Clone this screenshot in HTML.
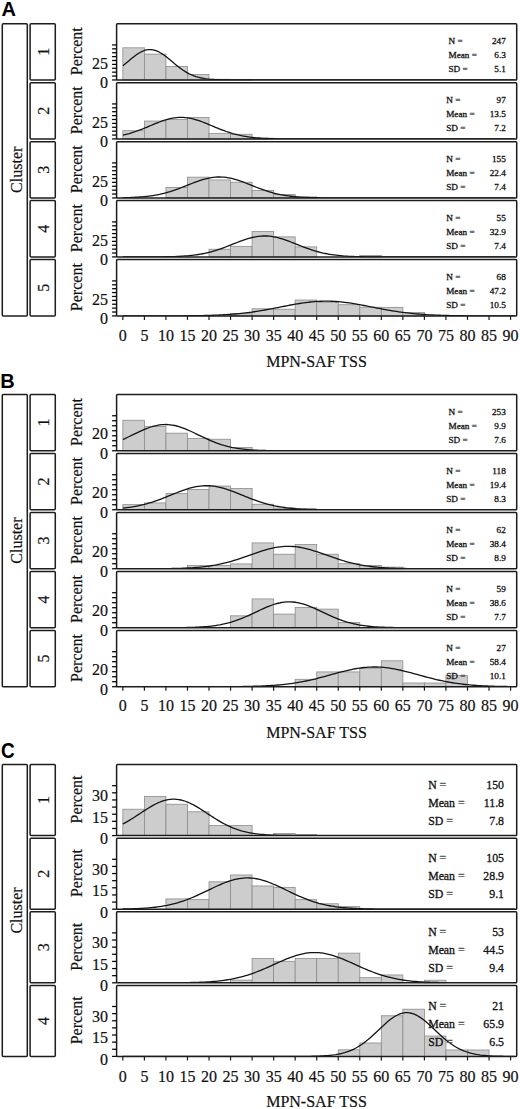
<!DOCTYPE html>
<html><head><meta charset="utf-8"><style>
html,body{margin:0;padding:0;background:#fff;}
svg{display:block;}
</style></head><body>
<svg width="520" height="1109" viewBox="0 0 520 1109">
<rect width="520" height="1109" fill="#fff"/>
<text transform="translate(1.5 15.6) scale(1.0 1.03)" font-family="'Liberation Sans', sans-serif" font-weight="bold" font-size="20" fill="#000">A</text>
<rect x="2.3" y="23.65" width="25.0" height="292.26" rx="1.0" fill="none" stroke="#1c1c1c" stroke-width="1.5"/>
<text transform="translate(21.7 169.78) rotate(-90)" text-anchor="middle" font-family="'Liberation Serif', serif" font-size="16" fill="#111" stroke="#111" stroke-width="0.2">Cluster</text>
<rect x="30.1" y="23.65" width="25.2" height="56.3" rx="1.0" fill="none" stroke="#1c1c1c" stroke-width="1.5"/>
<text transform="translate(48.9 51.8) rotate(-90)" text-anchor="middle" font-family="'Liberation Serif', serif" font-size="16" fill="#111" stroke="#111" stroke-width="0.2">1</text>
<text transform="translate(81.8 51.2) rotate(-90)" text-anchor="middle" font-family="'Liberation Serif', serif" font-size="16" fill="#111" stroke="#111" stroke-width="0.2">Percent</text>
<rect x="122.85" y="47.82" width="21.54" height="32.13" fill="#cdcdcd" stroke="#8c8c8c" stroke-width="0.8"/>
<rect x="144.39" y="54.12" width="21.54" height="25.83" fill="#cdcdcd" stroke="#8c8c8c" stroke-width="0.8"/>
<rect x="165.93" y="66.41" width="21.54" height="13.54" fill="#cdcdcd" stroke="#8c8c8c" stroke-width="0.8"/>
<rect x="187.47" y="74.58" width="21.54" height="5.37" fill="#cdcdcd" stroke="#8c8c8c" stroke-width="0.8"/>
<rect x="209.01" y="79.25" width="21.54" height="0.7" fill="#cdcdcd" stroke="#8c8c8c" stroke-width="0.8"/>
<rect x="230.55" y="79.64" width="21.54" height="0.31" fill="#cdcdcd" stroke="#8c8c8c" stroke-width="0.8"/>
<polyline points="122.85,65.76 125,64.01 127.16,62.22 129.31,60.41 131.47,58.62 133.62,56.9 135.77,55.27 137.93,53.78 140.08,52.46 142.24,51.36 144.39,50.49 146.54,49.89 148.7,49.57 150.85,49.54 153.01,49.81 155.16,50.35 157.31,51.17 159.47,52.22 161.62,53.5 163.78,54.96 165.93,56.56 168.08,58.27 170.24,60.05 172.39,61.86 174.55,63.66 176.7,65.42 178.85,67.11 181.01,68.72 183.16,70.22 185.32,71.6 187.47,72.85 189.62,73.97 191.78,74.96 193.93,75.83 196.09,76.58 198.24,77.22 200.39,77.76 202.55,78.21 204.7,78.58 206.86,78.88 209.01,79.13 211.16,79.32 213.32,79.47 215.47,79.59 217.63,79.68 219.78,79.75 221.93,79.81 224.09,79.85 226.24,79.88 228.4,79.9 230.55,79.91 232.7,79.92 234.86,79.93 237.01,79.94 239.17,79.94 241.32,79.94 243.47,79.95 245.63,79.95 247.78,79.95 249.94,79.95 252.09,79.95 254.24,79.95 256.4,79.95 258.55,79.95 260.71,79.95 262.86,79.95 265.01,79.95 267.17,79.95 269.32,79.95 271.48,79.95 273.63,79.95 275.78,79.95 277.94,79.95 280.09,79.95 282.25,79.95 284.4,79.95 286.55,79.95 288.71,79.95 290.86,79.95 293.02,79.95 295.17,79.95 297.32,79.95 299.48,79.95 301.63,79.95 303.79,79.95 305.94,79.95 308.09,79.95 310.25,79.95 312.4,79.95 314.56,79.95 316.71,79.95 318.86,79.95 321.02,79.95 323.17,79.95 325.33,79.95 327.48,79.95 329.63,79.95 331.79,79.95 333.94,79.95 336.1,79.95 338.25,79.95 340.4,79.95 342.56,79.95 344.71,79.95 346.87,79.95 349.02,79.95 351.17,79.95 353.33,79.95 355.48,79.95 357.64,79.95 359.79,79.95 361.94,79.95 364.1,79.95 366.25,79.95 368.41,79.95 370.56,79.95 372.71,79.95 374.87,79.95 377.02,79.95 379.18,79.95 381.33,79.95 383.48,79.95 385.64,79.95 387.79,79.95 389.95,79.95 392.1,79.95 394.25,79.95 396.41,79.95 398.56,79.95 400.72,79.95 402.87,79.95 405.02,79.95 407.18,79.95 409.33,79.95 411.49,79.95 413.64,79.95 415.79,79.95 417.95,79.95 420.1,79.95 422.26,79.95 424.41,79.95 426.56,79.95 428.72,79.95 430.87,79.95 433.03,79.95 435.18,79.95 437.33,79.95 439.49,79.95 441.64,79.95 443.8,79.95 445.95,79.95 448.1,79.95 450.26,79.95 452.41,79.95 454.57,79.95 456.72,79.95 458.87,79.95 461.03,79.95 463.18,79.95 465.34,79.95 467.49,79.95 469.64,79.95 471.8,79.95 473.95,79.95 476.11,79.95 478.26,79.95 480.41,79.95 482.57,79.95 484.72,79.95 486.88,79.95 489.03,79.95 491.18,79.95 493.34,79.95 495.49,79.95 497.65,79.95 499.8,79.95 501.95,79.95 504.11,79.95 506.26,79.95 508.42,79.95 510.57,79.95 512.72,79.95 514.88,79.95" fill="none" stroke="#141414" stroke-width="1.3" stroke-linejoin="round" clip-path="url(#clA0)"/>
<clipPath id="clA0"><rect x="116.6" y="23.65" width="400.1" height="56.3"/></clipPath>
<rect x="116.6" y="23.65" width="400.1" height="56.3" rx="0.8" fill="none" stroke="#1c1c1c" stroke-width="1.5"/>
<line x1="112.1" y1="79.95" x2="116.6" y2="79.95" stroke="#000" stroke-width="1.25"/>
<line x1="112.1" y1="76.06" x2="116.6" y2="76.06" stroke="#000" stroke-width="1.25"/>
<line x1="112.1" y1="72.17" x2="116.6" y2="72.17" stroke="#000" stroke-width="1.25"/>
<line x1="112.1" y1="68.28" x2="116.6" y2="68.28" stroke="#000" stroke-width="1.25"/>
<line x1="112.1" y1="64.39" x2="116.6" y2="64.39" stroke="#000" stroke-width="1.25"/>
<line x1="112.1" y1="60.5" x2="116.6" y2="60.5" stroke="#000" stroke-width="1.25"/>
<line x1="112.1" y1="56.61" x2="116.6" y2="56.61" stroke="#000" stroke-width="1.25"/>
<line x1="112.1" y1="52.72" x2="116.6" y2="52.72" stroke="#000" stroke-width="1.25"/>
<line x1="112.1" y1="48.83" x2="116.6" y2="48.83" stroke="#000" stroke-width="1.25"/>
<line x1="112.1" y1="44.94" x2="116.6" y2="44.94" stroke="#000" stroke-width="1.25"/>
<text x="108.0" y="88.25" text-anchor="end" font-family="'Liberation Serif', serif" font-size="16" fill="#111" stroke="#111" stroke-width="0.2">0</text>
<text x="108.0" y="68.8" text-anchor="end" font-family="'Liberation Serif', serif" font-size="16" fill="#111" stroke="#111" stroke-width="0.2">25</text>
<text x="448.5" y="44.1" font-family="'Liberation Serif', serif" font-size="9.2" fill="#111" stroke="#111" stroke-width="0.3">N <tspan fill="#555" stroke="#555">=</tspan></text>
<text x="505.8" y="44.1" text-anchor="end" font-family="'Liberation Serif', serif" font-size="9.2" fill="#111" stroke="#111" stroke-width="0.3">247</text>
<text x="448.5" y="58.2" font-family="'Liberation Serif', serif" font-size="9.2" fill="#111" stroke="#111" stroke-width="0.3">Mean <tspan fill="#555" stroke="#555">=</tspan></text>
<text x="505.8" y="58.2" text-anchor="end" font-family="'Liberation Serif', serif" font-size="9.2" fill="#111" stroke="#111" stroke-width="0.3">6.3</text>
<text x="448.5" y="72.3" font-family="'Liberation Serif', serif" font-size="9.2" fill="#111" stroke="#111" stroke-width="0.3">SD <tspan fill="#555" stroke="#555">=</tspan></text>
<text x="505.8" y="72.3" text-anchor="end" font-family="'Liberation Serif', serif" font-size="9.2" fill="#111" stroke="#111" stroke-width="0.3">5.1</text>
<rect x="30.1" y="82.64" width="25.2" height="56.3" rx="1.0" fill="none" stroke="#1c1c1c" stroke-width="1.5"/>
<text transform="translate(48.9 110.79) rotate(-90)" text-anchor="middle" font-family="'Liberation Serif', serif" font-size="16" fill="#111" stroke="#111" stroke-width="0.2">2</text>
<text transform="translate(81.8 110.19) rotate(-90)" text-anchor="middle" font-family="'Liberation Serif', serif" font-size="16" fill="#111" stroke="#111" stroke-width="0.2">Percent</text>
<rect x="122.85" y="130.69" width="21.54" height="8.25" fill="#cdcdcd" stroke="#8c8c8c" stroke-width="0.8"/>
<rect x="144.39" y="121.05" width="21.54" height="17.89" fill="#cdcdcd" stroke="#8c8c8c" stroke-width="0.8"/>
<rect x="165.93" y="119.57" width="21.54" height="19.37" fill="#cdcdcd" stroke="#8c8c8c" stroke-width="0.8"/>
<rect x="187.47" y="117.39" width="21.54" height="21.55" fill="#cdcdcd" stroke="#8c8c8c" stroke-width="0.8"/>
<rect x="209.01" y="133.34" width="21.54" height="5.6" fill="#cdcdcd" stroke="#8c8c8c" stroke-width="0.8"/>
<rect x="230.55" y="134.27" width="21.54" height="4.67" fill="#cdcdcd" stroke="#8c8c8c" stroke-width="0.8"/>
<rect x="252.09" y="138.16" width="21.54" height="0.78" fill="#cdcdcd" stroke="#8c8c8c" stroke-width="0.8"/>
<polyline points="122.85,135.22 125,134.72 127.16,134.16 129.31,133.57 131.47,132.92 133.62,132.23 135.77,131.5 137.93,130.72 140.08,129.91 142.24,129.07 144.39,128.2 146.54,127.31 148.7,126.41 150.85,125.5 153.01,124.6 155.16,123.71 157.31,122.84 159.47,122 161.62,121.21 163.78,120.47 165.93,119.79 168.08,119.18 170.24,118.65 172.39,118.2 174.55,117.85 176.7,117.59 178.85,117.44 181.01,117.39 183.16,117.44 185.32,117.59 187.47,117.85 189.62,118.2 191.78,118.65 193.93,119.18 196.09,119.79 198.24,120.47 200.39,121.21 202.55,122 204.7,122.84 206.86,123.71 209.01,124.6 211.16,125.5 213.32,126.41 215.47,127.31 217.63,128.2 219.78,129.07 221.93,129.91 224.09,130.72 226.24,131.5 228.4,132.23 230.55,132.92 232.7,133.57 234.86,134.16 237.01,134.72 239.17,135.22 241.32,135.69 243.47,136.1 245.63,136.48 247.78,136.82 249.94,137.12 252.09,137.38 254.24,137.61 256.4,137.82 258.55,137.99 260.71,138.15 262.86,138.28 265.01,138.39 267.17,138.49 269.32,138.57 271.48,138.63 273.63,138.69 275.78,138.74 277.94,138.78 280.09,138.81 282.25,138.84 284.4,138.86 286.55,138.87 288.71,138.89 290.86,138.9 293.02,138.91 295.17,138.92 297.32,138.92 299.48,138.93 301.63,138.93 303.79,138.93 305.94,138.93 308.09,138.94 310.25,138.94 312.4,138.94 314.56,138.94 316.71,138.94 318.86,138.94 321.02,138.94 323.17,138.94 325.33,138.94 327.48,138.94 329.63,138.94 331.79,138.94 333.94,138.94 336.1,138.94 338.25,138.94 340.4,138.94 342.56,138.94 344.71,138.94 346.87,138.94 349.02,138.94 351.17,138.94 353.33,138.94 355.48,138.94 357.64,138.94 359.79,138.94 361.94,138.94 364.1,138.94 366.25,138.94 368.41,138.94 370.56,138.94 372.71,138.94 374.87,138.94 377.02,138.94 379.18,138.94 381.33,138.94 383.48,138.94 385.64,138.94 387.79,138.94 389.95,138.94 392.1,138.94 394.25,138.94 396.41,138.94 398.56,138.94 400.72,138.94 402.87,138.94 405.02,138.94 407.18,138.94 409.33,138.94 411.49,138.94 413.64,138.94 415.79,138.94 417.95,138.94 420.1,138.94 422.26,138.94 424.41,138.94 426.56,138.94 428.72,138.94 430.87,138.94 433.03,138.94 435.18,138.94 437.33,138.94 439.49,138.94 441.64,138.94 443.8,138.94 445.95,138.94 448.1,138.94 450.26,138.94 452.41,138.94 454.57,138.94 456.72,138.94 458.87,138.94 461.03,138.94 463.18,138.94 465.34,138.94 467.49,138.94 469.64,138.94 471.8,138.94 473.95,138.94 476.11,138.94 478.26,138.94 480.41,138.94 482.57,138.94 484.72,138.94 486.88,138.94 489.03,138.94 491.18,138.94 493.34,138.94 495.49,138.94 497.65,138.94 499.8,138.94 501.95,138.94 504.11,138.94 506.26,138.94 508.42,138.94 510.57,138.94 512.72,138.94 514.88,138.94" fill="none" stroke="#141414" stroke-width="1.3" stroke-linejoin="round" clip-path="url(#clA1)"/>
<clipPath id="clA1"><rect x="116.6" y="82.64" width="400.1" height="56.3"/></clipPath>
<rect x="116.6" y="82.64" width="400.1" height="56.3" rx="0.8" fill="none" stroke="#1c1c1c" stroke-width="1.5"/>
<line x1="112.1" y1="138.94" x2="116.6" y2="138.94" stroke="#000" stroke-width="1.25"/>
<line x1="112.1" y1="135.05" x2="116.6" y2="135.05" stroke="#000" stroke-width="1.25"/>
<line x1="112.1" y1="131.16" x2="116.6" y2="131.16" stroke="#000" stroke-width="1.25"/>
<line x1="112.1" y1="127.27" x2="116.6" y2="127.27" stroke="#000" stroke-width="1.25"/>
<line x1="112.1" y1="123.38" x2="116.6" y2="123.38" stroke="#000" stroke-width="1.25"/>
<line x1="112.1" y1="119.49" x2="116.6" y2="119.49" stroke="#000" stroke-width="1.25"/>
<line x1="112.1" y1="115.6" x2="116.6" y2="115.6" stroke="#000" stroke-width="1.25"/>
<line x1="112.1" y1="111.71" x2="116.6" y2="111.71" stroke="#000" stroke-width="1.25"/>
<line x1="112.1" y1="107.82" x2="116.6" y2="107.82" stroke="#000" stroke-width="1.25"/>
<line x1="112.1" y1="103.93" x2="116.6" y2="103.93" stroke="#000" stroke-width="1.25"/>
<text x="108.0" y="147.24" text-anchor="end" font-family="'Liberation Serif', serif" font-size="16" fill="#111" stroke="#111" stroke-width="0.2">0</text>
<text x="108.0" y="127.79" text-anchor="end" font-family="'Liberation Serif', serif" font-size="16" fill="#111" stroke="#111" stroke-width="0.2">25</text>
<text x="446.2" y="103.09" font-family="'Liberation Serif', serif" font-size="9.2" fill="#111" stroke="#111" stroke-width="0.3">N <tspan fill="#555" stroke="#555">=</tspan></text>
<text x="505.8" y="103.09" text-anchor="end" font-family="'Liberation Serif', serif" font-size="9.2" fill="#111" stroke="#111" stroke-width="0.3">97</text>
<text x="446.2" y="117.19" font-family="'Liberation Serif', serif" font-size="9.2" fill="#111" stroke="#111" stroke-width="0.3">Mean <tspan fill="#555" stroke="#555">=</tspan></text>
<text x="505.8" y="117.19" text-anchor="end" font-family="'Liberation Serif', serif" font-size="9.2" fill="#111" stroke="#111" stroke-width="0.3">13.5</text>
<text x="446.2" y="131.29" font-family="'Liberation Serif', serif" font-size="9.2" fill="#111" stroke="#111" stroke-width="0.3">SD <tspan fill="#555" stroke="#555">=</tspan></text>
<text x="505.8" y="131.29" text-anchor="end" font-family="'Liberation Serif', serif" font-size="9.2" fill="#111" stroke="#111" stroke-width="0.3">7.2</text>
<rect x="30.1" y="141.63" width="25.2" height="56.3" rx="1.0" fill="none" stroke="#1c1c1c" stroke-width="1.5"/>
<text transform="translate(48.9 169.78) rotate(-90)" text-anchor="middle" font-family="'Liberation Serif', serif" font-size="16" fill="#111" stroke="#111" stroke-width="0.2">3</text>
<text transform="translate(81.8 169.18) rotate(-90)" text-anchor="middle" font-family="'Liberation Serif', serif" font-size="16" fill="#111" stroke="#111" stroke-width="0.2">Percent</text>
<rect x="165.93" y="187.5" width="21.54" height="10.43" fill="#cdcdcd" stroke="#8c8c8c" stroke-width="0.8"/>
<rect x="187.47" y="177.16" width="21.54" height="20.77" fill="#cdcdcd" stroke="#8c8c8c" stroke-width="0.8"/>
<rect x="209.01" y="179.96" width="21.54" height="17.97" fill="#cdcdcd" stroke="#8c8c8c" stroke-width="0.8"/>
<rect x="230.55" y="182.21" width="21.54" height="15.72" fill="#cdcdcd" stroke="#8c8c8c" stroke-width="0.8"/>
<rect x="252.09" y="190.54" width="21.54" height="7.39" fill="#cdcdcd" stroke="#8c8c8c" stroke-width="0.8"/>
<rect x="273.63" y="194.43" width="21.54" height="3.5" fill="#cdcdcd" stroke="#8c8c8c" stroke-width="0.8"/>
<rect x="295.17" y="196.92" width="21.54" height="1.01" fill="#cdcdcd" stroke="#8c8c8c" stroke-width="0.8"/>
<polyline points="122.85,197.72 125,197.67 127.16,197.61 129.31,197.54 131.47,197.46 133.62,197.37 135.77,197.26 137.93,197.13 140.08,196.98 142.24,196.81 144.39,196.61 146.54,196.38 148.7,196.13 150.85,195.84 153.01,195.52 155.16,195.17 157.31,194.77 159.47,194.34 161.62,193.86 163.78,193.34 165.93,192.78 168.08,192.17 170.24,191.53 172.39,190.84 174.55,190.12 176.7,189.36 178.85,188.57 181.01,187.76 183.16,186.92 185.32,186.07 187.47,185.21 189.62,184.35 191.78,183.5 193.93,182.67 196.09,181.86 198.24,181.09 200.39,180.36 202.55,179.68 204.7,179.06 206.86,178.51 209.01,178.03 211.16,177.64 213.32,177.33 215.47,177.11 217.63,176.99 219.78,176.96 221.93,177.03 224.09,177.19 226.24,177.44 228.4,177.79 230.55,178.21 232.7,178.72 234.86,179.3 237.01,179.94 239.17,180.64 241.32,181.39 243.47,182.18 245.63,183 247.78,183.84 249.94,184.69 252.09,185.55 254.24,186.41 256.4,187.26 258.55,188.08 260.71,188.89 262.86,189.67 265.01,190.41 267.17,191.12 269.32,191.79 271.48,192.42 273.63,193.01 275.78,193.55 277.94,194.06 280.09,194.52 282.25,194.94 284.4,195.32 286.55,195.66 288.71,195.96 290.86,196.24 293.02,196.48 295.17,196.69 297.32,196.88 299.48,197.04 301.63,197.18 303.79,197.3 305.94,197.41 308.09,197.49 310.25,197.57 312.4,197.63 314.56,197.69 316.71,197.73 318.86,197.77 321.02,197.8 323.17,197.83 325.33,197.85 327.48,197.86 329.63,197.88 331.79,197.89 333.94,197.9 336.1,197.9 338.25,197.91 340.4,197.91 342.56,197.92 344.71,197.92 346.87,197.92 349.02,197.92 351.17,197.93 353.33,197.93 355.48,197.93 357.64,197.93 359.79,197.93 361.94,197.93 364.1,197.93 366.25,197.93 368.41,197.93 370.56,197.93 372.71,197.93 374.87,197.93 377.02,197.93 379.18,197.93 381.33,197.93 383.48,197.93 385.64,197.93 387.79,197.93 389.95,197.93 392.1,197.93 394.25,197.93 396.41,197.93 398.56,197.93 400.72,197.93 402.87,197.93 405.02,197.93 407.18,197.93 409.33,197.93 411.49,197.93 413.64,197.93 415.79,197.93 417.95,197.93 420.1,197.93 422.26,197.93 424.41,197.93 426.56,197.93 428.72,197.93 430.87,197.93 433.03,197.93 435.18,197.93 437.33,197.93 439.49,197.93 441.64,197.93 443.8,197.93 445.95,197.93 448.1,197.93 450.26,197.93 452.41,197.93 454.57,197.93 456.72,197.93 458.87,197.93 461.03,197.93 463.18,197.93 465.34,197.93 467.49,197.93 469.64,197.93 471.8,197.93 473.95,197.93 476.11,197.93 478.26,197.93 480.41,197.93 482.57,197.93 484.72,197.93 486.88,197.93 489.03,197.93 491.18,197.93 493.34,197.93 495.49,197.93 497.65,197.93 499.8,197.93 501.95,197.93 504.11,197.93 506.26,197.93 508.42,197.93 510.57,197.93 512.72,197.93 514.88,197.93" fill="none" stroke="#141414" stroke-width="1.3" stroke-linejoin="round" clip-path="url(#clA2)"/>
<clipPath id="clA2"><rect x="116.6" y="141.63" width="400.1" height="56.3"/></clipPath>
<rect x="116.6" y="141.63" width="400.1" height="56.3" rx="0.8" fill="none" stroke="#1c1c1c" stroke-width="1.5"/>
<line x1="112.1" y1="197.93" x2="116.6" y2="197.93" stroke="#000" stroke-width="1.25"/>
<line x1="112.1" y1="194.04" x2="116.6" y2="194.04" stroke="#000" stroke-width="1.25"/>
<line x1="112.1" y1="190.15" x2="116.6" y2="190.15" stroke="#000" stroke-width="1.25"/>
<line x1="112.1" y1="186.26" x2="116.6" y2="186.26" stroke="#000" stroke-width="1.25"/>
<line x1="112.1" y1="182.37" x2="116.6" y2="182.37" stroke="#000" stroke-width="1.25"/>
<line x1="112.1" y1="178.48" x2="116.6" y2="178.48" stroke="#000" stroke-width="1.25"/>
<line x1="112.1" y1="174.59" x2="116.6" y2="174.59" stroke="#000" stroke-width="1.25"/>
<line x1="112.1" y1="170.7" x2="116.6" y2="170.7" stroke="#000" stroke-width="1.25"/>
<line x1="112.1" y1="166.81" x2="116.6" y2="166.81" stroke="#000" stroke-width="1.25"/>
<line x1="112.1" y1="162.92" x2="116.6" y2="162.92" stroke="#000" stroke-width="1.25"/>
<text x="108.0" y="206.23" text-anchor="end" font-family="'Liberation Serif', serif" font-size="16" fill="#111" stroke="#111" stroke-width="0.2">0</text>
<text x="108.0" y="186.78" text-anchor="end" font-family="'Liberation Serif', serif" font-size="16" fill="#111" stroke="#111" stroke-width="0.2">25</text>
<text x="446.2" y="162.08" font-family="'Liberation Serif', serif" font-size="9.2" fill="#111" stroke="#111" stroke-width="0.3">N <tspan fill="#555" stroke="#555">=</tspan></text>
<text x="505.8" y="162.08" text-anchor="end" font-family="'Liberation Serif', serif" font-size="9.2" fill="#111" stroke="#111" stroke-width="0.3">155</text>
<text x="446.2" y="176.18" font-family="'Liberation Serif', serif" font-size="9.2" fill="#111" stroke="#111" stroke-width="0.3">Mean <tspan fill="#555" stroke="#555">=</tspan></text>
<text x="505.8" y="176.18" text-anchor="end" font-family="'Liberation Serif', serif" font-size="9.2" fill="#111" stroke="#111" stroke-width="0.3">22.4</text>
<text x="446.2" y="190.28" font-family="'Liberation Serif', serif" font-size="9.2" fill="#111" stroke="#111" stroke-width="0.3">SD <tspan fill="#555" stroke="#555">=</tspan></text>
<text x="505.8" y="190.28" text-anchor="end" font-family="'Liberation Serif', serif" font-size="9.2" fill="#111" stroke="#111" stroke-width="0.3">7.4</text>
<rect x="30.1" y="200.62" width="25.2" height="56.3" rx="1.0" fill="none" stroke="#1c1c1c" stroke-width="1.5"/>
<text transform="translate(48.9 228.77) rotate(-90)" text-anchor="middle" font-family="'Liberation Serif', serif" font-size="16" fill="#111" stroke="#111" stroke-width="0.2">4</text>
<text transform="translate(81.8 228.17) rotate(-90)" text-anchor="middle" font-family="'Liberation Serif', serif" font-size="16" fill="#111" stroke="#111" stroke-width="0.2">Percent</text>
<rect x="209.01" y="249.22" width="21.54" height="7.7" fill="#cdcdcd" stroke="#8c8c8c" stroke-width="0.8"/>
<rect x="230.55" y="246.34" width="21.54" height="10.58" fill="#cdcdcd" stroke="#8c8c8c" stroke-width="0.8"/>
<rect x="252.09" y="231.48" width="21.54" height="25.44" fill="#cdcdcd" stroke="#8c8c8c" stroke-width="0.8"/>
<rect x="273.63" y="236.85" width="21.54" height="20.07" fill="#cdcdcd" stroke="#8c8c8c" stroke-width="0.8"/>
<rect x="295.17" y="246.88" width="21.54" height="10.04" fill="#cdcdcd" stroke="#8c8c8c" stroke-width="0.8"/>
<rect x="359.79" y="255.52" width="21.54" height="1.4" fill="#cdcdcd" stroke="#8c8c8c" stroke-width="0.8"/>
<polyline points="122.85,256.92 125,256.92 127.16,256.92 129.31,256.92 131.47,256.92 133.62,256.92 135.77,256.91 137.93,256.91 140.08,256.91 142.24,256.91 144.39,256.9 146.54,256.9 148.7,256.89 150.85,256.88 153.01,256.87 155.16,256.86 157.31,256.85 159.47,256.83 161.62,256.81 163.78,256.78 165.93,256.75 168.08,256.71 170.24,256.66 172.39,256.6 174.55,256.53 176.7,256.45 178.85,256.36 181.01,256.25 183.16,256.12 185.32,255.97 187.47,255.8 189.62,255.6 191.78,255.37 193.93,255.12 196.09,254.83 198.24,254.51 200.39,254.16 202.55,253.76 204.7,253.33 206.86,252.85 209.01,252.33 211.16,251.77 213.32,251.16 215.47,250.52 217.63,249.83 219.78,249.11 221.93,248.35 224.09,247.56 226.24,246.75 228.4,245.91 230.55,245.06 232.7,244.2 234.86,243.34 237.01,242.49 239.17,241.66 241.32,240.85 243.47,240.08 245.63,239.35 247.78,238.67 249.94,238.05 252.09,237.5 254.24,237.02 256.4,236.63 258.55,236.32 260.71,236.1 262.86,235.98 265.01,235.95 267.17,236.02 269.32,236.18 271.48,236.43 273.63,236.78 275.78,237.2 277.94,237.71 280.09,238.29 282.25,238.93 284.4,239.63 286.55,240.38 288.71,241.17 290.86,241.99 293.02,242.83 295.17,243.68 297.32,244.54 299.48,245.4 301.63,246.25 303.79,247.07 305.94,247.88 308.09,248.66 310.25,249.4 312.4,250.11 314.56,250.78 316.71,251.41 318.86,252 321.02,252.54 323.17,253.05 325.33,253.51 327.48,253.93 329.63,254.31 331.79,254.65 333.94,254.95 336.1,255.23 338.25,255.47 340.4,255.68 342.56,255.87 344.71,256.03 346.87,256.17 349.02,256.29 351.17,256.4 353.33,256.48 355.48,256.56 357.64,256.62 359.79,256.68 361.94,256.72 364.1,256.76 366.25,256.79 368.41,256.82 370.56,256.84 372.71,256.85 374.87,256.87 377.02,256.88 379.18,256.89 381.33,256.89 383.48,256.9 385.64,256.9 387.79,256.91 389.95,256.91 392.1,256.91 394.25,256.91 396.41,256.92 398.56,256.92 400.72,256.92 402.87,256.92 405.02,256.92 407.18,256.92 409.33,256.92 411.49,256.92 413.64,256.92 415.79,256.92 417.95,256.92 420.1,256.92 422.26,256.92 424.41,256.92 426.56,256.92 428.72,256.92 430.87,256.92 433.03,256.92 435.18,256.92 437.33,256.92 439.49,256.92 441.64,256.92 443.8,256.92 445.95,256.92 448.1,256.92 450.26,256.92 452.41,256.92 454.57,256.92 456.72,256.92 458.87,256.92 461.03,256.92 463.18,256.92 465.34,256.92 467.49,256.92 469.64,256.92 471.8,256.92 473.95,256.92 476.11,256.92 478.26,256.92 480.41,256.92 482.57,256.92 484.72,256.92 486.88,256.92 489.03,256.92 491.18,256.92 493.34,256.92 495.49,256.92 497.65,256.92 499.8,256.92 501.95,256.92 504.11,256.92 506.26,256.92 508.42,256.92 510.57,256.92 512.72,256.92 514.88,256.92" fill="none" stroke="#141414" stroke-width="1.3" stroke-linejoin="round" clip-path="url(#clA3)"/>
<clipPath id="clA3"><rect x="116.6" y="200.62" width="400.1" height="56.3"/></clipPath>
<rect x="116.6" y="200.62" width="400.1" height="56.3" rx="0.8" fill="none" stroke="#1c1c1c" stroke-width="1.5"/>
<line x1="112.1" y1="256.92" x2="116.6" y2="256.92" stroke="#000" stroke-width="1.25"/>
<line x1="112.1" y1="253.03" x2="116.6" y2="253.03" stroke="#000" stroke-width="1.25"/>
<line x1="112.1" y1="249.14" x2="116.6" y2="249.14" stroke="#000" stroke-width="1.25"/>
<line x1="112.1" y1="245.25" x2="116.6" y2="245.25" stroke="#000" stroke-width="1.25"/>
<line x1="112.1" y1="241.36" x2="116.6" y2="241.36" stroke="#000" stroke-width="1.25"/>
<line x1="112.1" y1="237.47" x2="116.6" y2="237.47" stroke="#000" stroke-width="1.25"/>
<line x1="112.1" y1="233.58" x2="116.6" y2="233.58" stroke="#000" stroke-width="1.25"/>
<line x1="112.1" y1="229.69" x2="116.6" y2="229.69" stroke="#000" stroke-width="1.25"/>
<line x1="112.1" y1="225.8" x2="116.6" y2="225.8" stroke="#000" stroke-width="1.25"/>
<line x1="112.1" y1="221.91" x2="116.6" y2="221.91" stroke="#000" stroke-width="1.25"/>
<text x="108.0" y="265.22" text-anchor="end" font-family="'Liberation Serif', serif" font-size="16" fill="#111" stroke="#111" stroke-width="0.2">0</text>
<text x="108.0" y="245.77" text-anchor="end" font-family="'Liberation Serif', serif" font-size="16" fill="#111" stroke="#111" stroke-width="0.2">25</text>
<text x="446.2" y="221.07" font-family="'Liberation Serif', serif" font-size="9.2" fill="#111" stroke="#111" stroke-width="0.3">N <tspan fill="#555" stroke="#555">=</tspan></text>
<text x="505.8" y="221.07" text-anchor="end" font-family="'Liberation Serif', serif" font-size="9.2" fill="#111" stroke="#111" stroke-width="0.3">55</text>
<text x="446.2" y="235.17" font-family="'Liberation Serif', serif" font-size="9.2" fill="#111" stroke="#111" stroke-width="0.3">Mean <tspan fill="#555" stroke="#555">=</tspan></text>
<text x="505.8" y="235.17" text-anchor="end" font-family="'Liberation Serif', serif" font-size="9.2" fill="#111" stroke="#111" stroke-width="0.3">32.9</text>
<text x="446.2" y="249.27" font-family="'Liberation Serif', serif" font-size="9.2" fill="#111" stroke="#111" stroke-width="0.3">SD <tspan fill="#555" stroke="#555">=</tspan></text>
<text x="505.8" y="249.27" text-anchor="end" font-family="'Liberation Serif', serif" font-size="9.2" fill="#111" stroke="#111" stroke-width="0.3">7.4</text>
<rect x="30.1" y="259.61" width="25.2" height="56.3" rx="1.0" fill="none" stroke="#1c1c1c" stroke-width="1.5"/>
<text transform="translate(48.9 287.76) rotate(-90)" text-anchor="middle" font-family="'Liberation Serif', serif" font-size="16" fill="#111" stroke="#111" stroke-width="0.2">5</text>
<text transform="translate(81.8 287.16) rotate(-90)" text-anchor="middle" font-family="'Liberation Serif', serif" font-size="16" fill="#111" stroke="#111" stroke-width="0.2">Percent</text>
<rect x="230.55" y="313.65" width="21.54" height="2.26" fill="#cdcdcd" stroke="#8c8c8c" stroke-width="0.8"/>
<rect x="252.09" y="308.75" width="21.54" height="7.16" fill="#cdcdcd" stroke="#8c8c8c" stroke-width="0.8"/>
<rect x="273.63" y="309.22" width="21.54" height="6.69" fill="#cdcdcd" stroke="#8c8c8c" stroke-width="0.8"/>
<rect x="295.17" y="300.04" width="21.54" height="15.87" fill="#cdcdcd" stroke="#8c8c8c" stroke-width="0.8"/>
<rect x="316.71" y="302.22" width="21.54" height="13.69" fill="#cdcdcd" stroke="#8c8c8c" stroke-width="0.8"/>
<rect x="338.25" y="304.71" width="21.54" height="11.2" fill="#cdcdcd" stroke="#8c8c8c" stroke-width="0.8"/>
<rect x="359.79" y="307.2" width="21.54" height="8.71" fill="#cdcdcd" stroke="#8c8c8c" stroke-width="0.8"/>
<rect x="381.33" y="307.35" width="21.54" height="8.56" fill="#cdcdcd" stroke="#8c8c8c" stroke-width="0.8"/>
<rect x="402.87" y="312.49" width="21.54" height="3.42" fill="#cdcdcd" stroke="#8c8c8c" stroke-width="0.8"/>
<polyline points="122.85,315.91 125,315.91 127.16,315.91 129.31,315.91 131.47,315.91 133.62,315.91 135.77,315.91 137.93,315.91 140.08,315.91 142.24,315.91 144.39,315.91 146.54,315.9 148.7,315.9 150.85,315.9 153.01,315.9 155.16,315.9 157.31,315.9 159.47,315.89 161.62,315.89 163.78,315.89 165.93,315.88 168.08,315.88 170.24,315.87 172.39,315.86 174.55,315.86 176.7,315.85 178.85,315.84 181.01,315.82 183.16,315.81 185.32,315.79 187.47,315.78 189.62,315.75 191.78,315.73 193.93,315.7 196.09,315.67 198.24,315.64 200.39,315.6 202.55,315.56 204.7,315.51 206.86,315.45 209.01,315.39 211.16,315.33 213.32,315.25 215.47,315.17 217.63,315.08 219.78,314.98 221.93,314.87 224.09,314.75 226.24,314.62 228.4,314.48 230.55,314.33 232.7,314.16 234.86,313.98 237.01,313.79 239.17,313.59 241.32,313.37 243.47,313.13 245.63,312.88 247.78,312.62 249.94,312.34 252.09,312.05 254.24,311.74 256.4,311.41 258.55,311.08 260.71,310.73 262.86,310.36 265.01,309.99 267.17,309.6 269.32,309.2 271.48,308.8 273.63,308.38 275.78,307.97 277.94,307.54 280.09,307.12 282.25,306.69 284.4,306.26 286.55,305.84 288.71,305.42 290.86,305.01 293.02,304.61 295.17,304.23 297.32,303.85 299.48,303.49 301.63,303.16 303.79,302.84 305.94,302.54 308.09,302.27 310.25,302.02 312.4,301.8 314.56,301.61 316.71,301.45 318.86,301.32 321.02,301.23 323.17,301.16 325.33,301.13 327.48,301.14 329.63,301.17 331.79,301.24 333.94,301.35 336.1,301.48 338.25,301.65 340.4,301.84 342.56,302.07 344.71,302.32 346.87,302.6 349.02,302.9 351.17,303.22 353.33,303.56 355.48,303.93 357.64,304.3 359.79,304.69 361.94,305.1 364.1,305.51 366.25,305.93 368.41,306.35 370.56,306.77 372.71,307.2 374.87,307.63 377.02,308.05 379.18,308.47 381.33,308.88 383.48,309.28 385.64,309.68 387.79,310.06 389.95,310.44 392.1,310.8 394.25,311.15 396.41,311.48 398.56,311.8 400.72,312.11 402.87,312.4 405.02,312.67 407.18,312.93 409.33,313.18 411.49,313.41 413.64,313.63 415.79,313.83 417.95,314.02 420.1,314.2 422.26,314.36 424.41,314.51 426.56,314.65 428.72,314.78 430.87,314.89 433.03,315 435.18,315.1 437.33,315.19 439.49,315.27 441.64,315.34 443.8,315.41 445.95,315.47 448.1,315.52 450.26,315.57 452.41,315.61 454.57,315.65 456.72,315.68 458.87,315.71 461.03,315.74 463.18,315.76 465.34,315.78 467.49,315.8 469.64,315.81 471.8,315.83 473.95,315.84 476.11,315.85 478.26,315.86 480.41,315.87 482.57,315.87 484.72,315.88 486.88,315.88 489.03,315.89 491.18,315.89 493.34,315.89 495.49,315.9 497.65,315.9 499.8,315.9 501.95,315.9 504.11,315.9 506.26,315.9 508.42,315.91 510.57,315.91 512.72,315.91 514.88,315.91" fill="none" stroke="#141414" stroke-width="1.3" stroke-linejoin="round" clip-path="url(#clA4)"/>
<clipPath id="clA4"><rect x="116.6" y="259.61" width="400.1" height="56.3"/></clipPath>
<rect x="116.6" y="259.61" width="400.1" height="56.3" rx="0.8" fill="none" stroke="#1c1c1c" stroke-width="1.5"/>
<line x1="112.1" y1="315.91" x2="116.6" y2="315.91" stroke="#000" stroke-width="1.25"/>
<line x1="112.1" y1="312.02" x2="116.6" y2="312.02" stroke="#000" stroke-width="1.25"/>
<line x1="112.1" y1="308.13" x2="116.6" y2="308.13" stroke="#000" stroke-width="1.25"/>
<line x1="112.1" y1="304.24" x2="116.6" y2="304.24" stroke="#000" stroke-width="1.25"/>
<line x1="112.1" y1="300.35" x2="116.6" y2="300.35" stroke="#000" stroke-width="1.25"/>
<line x1="112.1" y1="296.46" x2="116.6" y2="296.46" stroke="#000" stroke-width="1.25"/>
<line x1="112.1" y1="292.57" x2="116.6" y2="292.57" stroke="#000" stroke-width="1.25"/>
<line x1="112.1" y1="288.68" x2="116.6" y2="288.68" stroke="#000" stroke-width="1.25"/>
<line x1="112.1" y1="284.79" x2="116.6" y2="284.79" stroke="#000" stroke-width="1.25"/>
<line x1="112.1" y1="280.9" x2="116.6" y2="280.9" stroke="#000" stroke-width="1.25"/>
<text x="108.0" y="324.21" text-anchor="end" font-family="'Liberation Serif', serif" font-size="16" fill="#111" stroke="#111" stroke-width="0.2">0</text>
<text x="108.0" y="304.76" text-anchor="end" font-family="'Liberation Serif', serif" font-size="16" fill="#111" stroke="#111" stroke-width="0.2">25</text>
<text x="446.2" y="280.06" font-family="'Liberation Serif', serif" font-size="9.2" fill="#111" stroke="#111" stroke-width="0.3">N <tspan fill="#555" stroke="#555">=</tspan></text>
<text x="505.8" y="280.06" text-anchor="end" font-family="'Liberation Serif', serif" font-size="9.2" fill="#111" stroke="#111" stroke-width="0.3">68</text>
<text x="446.2" y="294.16" font-family="'Liberation Serif', serif" font-size="9.2" fill="#111" stroke="#111" stroke-width="0.3">Mean <tspan fill="#555" stroke="#555">=</tspan></text>
<text x="505.8" y="294.16" text-anchor="end" font-family="'Liberation Serif', serif" font-size="9.2" fill="#111" stroke="#111" stroke-width="0.3">47.2</text>
<text x="446.2" y="308.26" font-family="'Liberation Serif', serif" font-size="9.2" fill="#111" stroke="#111" stroke-width="0.3">SD <tspan fill="#555" stroke="#555">=</tspan></text>
<text x="505.8" y="308.26" text-anchor="end" font-family="'Liberation Serif', serif" font-size="9.2" fill="#111" stroke="#111" stroke-width="0.3">10.5</text>
<line x1="122.85" y1="315.91" x2="122.85" y2="319.91" stroke="#1c1c1c" stroke-width="1.2"/>
<text x="122.85" y="340.6" text-anchor="middle" font-family="'Liberation Serif', serif" font-size="16" fill="#111" stroke="#111" stroke-width="0.2">0</text>
<line x1="144.39" y1="315.91" x2="144.39" y2="319.91" stroke="#1c1c1c" stroke-width="1.2"/>
<text x="144.39" y="340.6" text-anchor="middle" font-family="'Liberation Serif', serif" font-size="16" fill="#111" stroke="#111" stroke-width="0.2">5</text>
<line x1="165.93" y1="315.91" x2="165.93" y2="319.91" stroke="#1c1c1c" stroke-width="1.2"/>
<text x="165.93" y="340.6" text-anchor="middle" font-family="'Liberation Serif', serif" font-size="16" fill="#111" stroke="#111" stroke-width="0.2">10</text>
<line x1="187.47" y1="315.91" x2="187.47" y2="319.91" stroke="#1c1c1c" stroke-width="1.2"/>
<text x="187.47" y="340.6" text-anchor="middle" font-family="'Liberation Serif', serif" font-size="16" fill="#111" stroke="#111" stroke-width="0.2">15</text>
<line x1="209.01" y1="315.91" x2="209.01" y2="319.91" stroke="#1c1c1c" stroke-width="1.2"/>
<text x="209.01" y="340.6" text-anchor="middle" font-family="'Liberation Serif', serif" font-size="16" fill="#111" stroke="#111" stroke-width="0.2">20</text>
<line x1="230.55" y1="315.91" x2="230.55" y2="319.91" stroke="#1c1c1c" stroke-width="1.2"/>
<text x="230.55" y="340.6" text-anchor="middle" font-family="'Liberation Serif', serif" font-size="16" fill="#111" stroke="#111" stroke-width="0.2">25</text>
<line x1="252.09" y1="315.91" x2="252.09" y2="319.91" stroke="#1c1c1c" stroke-width="1.2"/>
<text x="252.09" y="340.6" text-anchor="middle" font-family="'Liberation Serif', serif" font-size="16" fill="#111" stroke="#111" stroke-width="0.2">30</text>
<line x1="273.63" y1="315.91" x2="273.63" y2="319.91" stroke="#1c1c1c" stroke-width="1.2"/>
<text x="273.63" y="340.6" text-anchor="middle" font-family="'Liberation Serif', serif" font-size="16" fill="#111" stroke="#111" stroke-width="0.2">35</text>
<line x1="295.17" y1="315.91" x2="295.17" y2="319.91" stroke="#1c1c1c" stroke-width="1.2"/>
<text x="295.17" y="340.6" text-anchor="middle" font-family="'Liberation Serif', serif" font-size="16" fill="#111" stroke="#111" stroke-width="0.2">40</text>
<line x1="316.71" y1="315.91" x2="316.71" y2="319.91" stroke="#1c1c1c" stroke-width="1.2"/>
<text x="316.71" y="340.6" text-anchor="middle" font-family="'Liberation Serif', serif" font-size="16" fill="#111" stroke="#111" stroke-width="0.2">45</text>
<line x1="338.25" y1="315.91" x2="338.25" y2="319.91" stroke="#1c1c1c" stroke-width="1.2"/>
<text x="338.25" y="340.6" text-anchor="middle" font-family="'Liberation Serif', serif" font-size="16" fill="#111" stroke="#111" stroke-width="0.2">50</text>
<line x1="359.79" y1="315.91" x2="359.79" y2="319.91" stroke="#1c1c1c" stroke-width="1.2"/>
<text x="359.79" y="340.6" text-anchor="middle" font-family="'Liberation Serif', serif" font-size="16" fill="#111" stroke="#111" stroke-width="0.2">55</text>
<line x1="381.33" y1="315.91" x2="381.33" y2="319.91" stroke="#1c1c1c" stroke-width="1.2"/>
<text x="381.33" y="340.6" text-anchor="middle" font-family="'Liberation Serif', serif" font-size="16" fill="#111" stroke="#111" stroke-width="0.2">60</text>
<line x1="402.87" y1="315.91" x2="402.87" y2="319.91" stroke="#1c1c1c" stroke-width="1.2"/>
<text x="402.87" y="340.6" text-anchor="middle" font-family="'Liberation Serif', serif" font-size="16" fill="#111" stroke="#111" stroke-width="0.2">65</text>
<line x1="424.41" y1="315.91" x2="424.41" y2="319.91" stroke="#1c1c1c" stroke-width="1.2"/>
<text x="424.41" y="340.6" text-anchor="middle" font-family="'Liberation Serif', serif" font-size="16" fill="#111" stroke="#111" stroke-width="0.2">70</text>
<line x1="445.95" y1="315.91" x2="445.95" y2="319.91" stroke="#1c1c1c" stroke-width="1.2"/>
<text x="445.95" y="340.6" text-anchor="middle" font-family="'Liberation Serif', serif" font-size="16" fill="#111" stroke="#111" stroke-width="0.2">75</text>
<line x1="467.49" y1="315.91" x2="467.49" y2="319.91" stroke="#1c1c1c" stroke-width="1.2"/>
<text x="467.49" y="340.6" text-anchor="middle" font-family="'Liberation Serif', serif" font-size="16" fill="#111" stroke="#111" stroke-width="0.2">80</text>
<line x1="489.03" y1="315.91" x2="489.03" y2="319.91" stroke="#1c1c1c" stroke-width="1.2"/>
<text x="489.03" y="340.6" text-anchor="middle" font-family="'Liberation Serif', serif" font-size="16" fill="#111" stroke="#111" stroke-width="0.2">85</text>
<line x1="510.57" y1="315.91" x2="510.57" y2="319.91" stroke="#1c1c1c" stroke-width="1.2"/>
<text x="510.57" y="340.6" text-anchor="middle" font-family="'Liberation Serif', serif" font-size="16" fill="#111" stroke="#111" stroke-width="0.2">90</text>
<text x="316.5" y="366.7" text-anchor="middle" font-family="'Liberation Serif', serif" font-size="16" fill="#111" stroke="#111" stroke-width="0.2">MPN-SAF TSS</text>
<text transform="translate(0.2 387.7) scale(1.0 1.0)" font-family="'Liberation Sans', sans-serif" font-weight="bold" font-size="20" fill="#000">B</text>
<rect x="2.3" y="394.45" width="25.0" height="292.26" rx="1.0" fill="none" stroke="#1c1c1c" stroke-width="1.5"/>
<text transform="translate(21.7 540.58) rotate(-90)" text-anchor="middle" font-family="'Liberation Serif', serif" font-size="16" fill="#111" stroke="#111" stroke-width="0.2">Cluster</text>
<rect x="30.1" y="394.45" width="25.2" height="56.3" rx="1.0" fill="none" stroke="#1c1c1c" stroke-width="1.5"/>
<text transform="translate(48.9 422.6) rotate(-90)" text-anchor="middle" font-family="'Liberation Serif', serif" font-size="16" fill="#111" stroke="#111" stroke-width="0.2">1</text>
<text transform="translate(81.8 422) rotate(-90)" text-anchor="middle" font-family="'Liberation Serif', serif" font-size="16" fill="#111" stroke="#111" stroke-width="0.2">Percent</text>
<rect x="122.85" y="420.25" width="21.54" height="30.5" fill="#cdcdcd" stroke="#8c8c8c" stroke-width="0.8"/>
<rect x="144.39" y="426.35" width="21.54" height="24.4" fill="#cdcdcd" stroke="#8c8c8c" stroke-width="0.8"/>
<rect x="165.93" y="433.15" width="21.54" height="17.6" fill="#cdcdcd" stroke="#8c8c8c" stroke-width="0.8"/>
<rect x="187.47" y="438.35" width="21.54" height="12.4" fill="#cdcdcd" stroke="#8c8c8c" stroke-width="0.8"/>
<rect x="209.01" y="439.25" width="21.54" height="11.5" fill="#cdcdcd" stroke="#8c8c8c" stroke-width="0.8"/>
<rect x="230.55" y="447.55" width="21.54" height="3.2" fill="#cdcdcd" stroke="#8c8c8c" stroke-width="0.8"/>
<rect x="252.09" y="450.35" width="21.54" height="0.4" fill="#cdcdcd" stroke="#8c8c8c" stroke-width="0.8"/>
<polyline points="122.85,439.51 125,438.54 127.16,437.53 129.31,436.5 131.47,435.46 133.62,434.41 135.77,433.37 137.93,432.34 140.08,431.33 142.24,430.36 144.39,429.43 146.54,428.55 148.7,427.74 150.85,427 153.01,426.35 155.16,425.78 157.31,425.31 159.47,424.95 161.62,424.69 163.78,424.54 165.93,424.51 168.08,424.59 170.24,424.78 172.39,425.08 174.55,425.49 176.7,426 178.85,426.6 181.01,427.29 183.16,428.06 185.32,428.9 187.47,429.8 189.62,430.74 191.78,431.73 193.93,432.75 196.09,433.79 198.24,434.83 200.39,435.88 202.55,436.91 204.7,437.93 206.86,438.93 209.01,439.9 211.16,440.83 213.32,441.72 215.47,442.56 217.63,443.36 219.78,444.11 221.93,444.81 224.09,445.46 226.24,446.05 228.4,446.6 230.55,447.1 232.7,447.56 234.86,447.97 237.01,448.33 239.17,448.66 241.32,448.95 243.47,449.21 245.63,449.44 247.78,449.63 249.94,449.81 252.09,449.96 254.24,450.08 256.4,450.19 258.55,450.29 260.71,450.37 262.86,450.43 265.01,450.49 267.17,450.54 269.32,450.58 271.48,450.61 273.63,450.64 275.78,450.66 277.94,450.68 280.09,450.69 282.25,450.7 284.4,450.71 286.55,450.72 288.71,450.73 290.86,450.73 293.02,450.74 295.17,450.74 297.32,450.74 299.48,450.74 301.63,450.75 303.79,450.75 305.94,450.75 308.09,450.75 310.25,450.75 312.4,450.75 314.56,450.75 316.71,450.75 318.86,450.75 321.02,450.75 323.17,450.75 325.33,450.75 327.48,450.75 329.63,450.75 331.79,450.75 333.94,450.75 336.1,450.75 338.25,450.75 340.4,450.75 342.56,450.75 344.71,450.75 346.87,450.75 349.02,450.75 351.17,450.75 353.33,450.75 355.48,450.75 357.64,450.75 359.79,450.75 361.94,450.75 364.1,450.75 366.25,450.75 368.41,450.75 370.56,450.75 372.71,450.75 374.87,450.75 377.02,450.75 379.18,450.75 381.33,450.75 383.48,450.75 385.64,450.75 387.79,450.75 389.95,450.75 392.1,450.75 394.25,450.75 396.41,450.75 398.56,450.75 400.72,450.75 402.87,450.75 405.02,450.75 407.18,450.75 409.33,450.75 411.49,450.75 413.64,450.75 415.79,450.75 417.95,450.75 420.1,450.75 422.26,450.75 424.41,450.75 426.56,450.75 428.72,450.75 430.87,450.75 433.03,450.75 435.18,450.75 437.33,450.75 439.49,450.75 441.64,450.75 443.8,450.75 445.95,450.75 448.1,450.75 450.26,450.75 452.41,450.75 454.57,450.75 456.72,450.75 458.87,450.75 461.03,450.75 463.18,450.75 465.34,450.75 467.49,450.75 469.64,450.75 471.8,450.75 473.95,450.75 476.11,450.75 478.26,450.75 480.41,450.75 482.57,450.75 484.72,450.75 486.88,450.75 489.03,450.75 491.18,450.75 493.34,450.75 495.49,450.75 497.65,450.75 499.8,450.75 501.95,450.75 504.11,450.75 506.26,450.75 508.42,450.75 510.57,450.75 512.72,450.75 514.88,450.75" fill="none" stroke="#141414" stroke-width="1.3" stroke-linejoin="round" clip-path="url(#clB0)"/>
<clipPath id="clB0"><rect x="116.6" y="394.45" width="400.1" height="56.3"/></clipPath>
<rect x="116.6" y="394.45" width="400.1" height="56.3" rx="0.8" fill="none" stroke="#1c1c1c" stroke-width="1.5"/>
<line x1="112.1" y1="450.75" x2="116.6" y2="450.75" stroke="#000" stroke-width="1.25"/>
<line x1="112.1" y1="445.75" x2="116.6" y2="445.75" stroke="#000" stroke-width="1.25"/>
<line x1="112.1" y1="440.75" x2="116.6" y2="440.75" stroke="#000" stroke-width="1.25"/>
<line x1="112.1" y1="435.75" x2="116.6" y2="435.75" stroke="#000" stroke-width="1.25"/>
<line x1="112.1" y1="430.75" x2="116.6" y2="430.75" stroke="#000" stroke-width="1.25"/>
<line x1="112.1" y1="425.75" x2="116.6" y2="425.75" stroke="#000" stroke-width="1.25"/>
<line x1="112.1" y1="420.75" x2="116.6" y2="420.75" stroke="#000" stroke-width="1.25"/>
<line x1="112.1" y1="415.75" x2="116.6" y2="415.75" stroke="#000" stroke-width="1.25"/>
<text x="108.0" y="459.05" text-anchor="end" font-family="'Liberation Serif', serif" font-size="16" fill="#111" stroke="#111" stroke-width="0.2">0</text>
<text x="108.0" y="439.05" text-anchor="end" font-family="'Liberation Serif', serif" font-size="16" fill="#111" stroke="#111" stroke-width="0.2">20</text>
<text x="448.5" y="414.65" font-family="'Liberation Serif', serif" font-size="9.2" fill="#111" stroke="#111" stroke-width="0.3">N <tspan fill="#555" stroke="#555">=</tspan></text>
<text x="505.8" y="414.65" text-anchor="end" font-family="'Liberation Serif', serif" font-size="9.2" fill="#111" stroke="#111" stroke-width="0.3">253</text>
<text x="448.5" y="428.75" font-family="'Liberation Serif', serif" font-size="9.2" fill="#111" stroke="#111" stroke-width="0.3">Mean <tspan fill="#555" stroke="#555">=</tspan></text>
<text x="505.8" y="428.75" text-anchor="end" font-family="'Liberation Serif', serif" font-size="9.2" fill="#111" stroke="#111" stroke-width="0.3">9.9</text>
<text x="448.5" y="442.85" font-family="'Liberation Serif', serif" font-size="9.2" fill="#111" stroke="#111" stroke-width="0.3">SD <tspan fill="#555" stroke="#555">=</tspan></text>
<text x="505.8" y="442.85" text-anchor="end" font-family="'Liberation Serif', serif" font-size="9.2" fill="#111" stroke="#111" stroke-width="0.3">7.6</text>
<rect x="30.1" y="453.44" width="25.2" height="56.3" rx="1.0" fill="none" stroke="#1c1c1c" stroke-width="1.5"/>
<text transform="translate(48.9 481.59) rotate(-90)" text-anchor="middle" font-family="'Liberation Serif', serif" font-size="16" fill="#111" stroke="#111" stroke-width="0.2">2</text>
<text transform="translate(81.8 480.99) rotate(-90)" text-anchor="middle" font-family="'Liberation Serif', serif" font-size="16" fill="#111" stroke="#111" stroke-width="0.2">Percent</text>
<rect x="122.85" y="504.64" width="21.54" height="5.1" fill="#cdcdcd" stroke="#8c8c8c" stroke-width="0.8"/>
<rect x="144.39" y="502.94" width="21.54" height="6.8" fill="#cdcdcd" stroke="#8c8c8c" stroke-width="0.8"/>
<rect x="165.93" y="493.64" width="21.54" height="16.1" fill="#cdcdcd" stroke="#8c8c8c" stroke-width="0.8"/>
<rect x="187.47" y="489.44" width="21.54" height="20.3" fill="#cdcdcd" stroke="#8c8c8c" stroke-width="0.8"/>
<rect x="209.01" y="486.04" width="21.54" height="23.7" fill="#cdcdcd" stroke="#8c8c8c" stroke-width="0.8"/>
<rect x="230.55" y="488.54" width="21.54" height="21.2" fill="#cdcdcd" stroke="#8c8c8c" stroke-width="0.8"/>
<rect x="252.09" y="504.24" width="21.54" height="5.5" fill="#cdcdcd" stroke="#8c8c8c" stroke-width="0.8"/>
<rect x="273.63" y="508.04" width="21.54" height="1.7" fill="#cdcdcd" stroke="#8c8c8c" stroke-width="0.8"/>
<rect x="295.17" y="508.89" width="21.54" height="0.85" fill="#cdcdcd" stroke="#8c8c8c" stroke-width="0.8"/>
<polyline points="122.85,508.18 125,507.94 127.16,507.68 129.31,507.39 131.47,507.07 133.62,506.72 135.77,506.33 137.93,505.9 140.08,505.44 142.24,504.94 144.39,504.4 146.54,503.83 148.7,503.21 150.85,502.56 153.01,501.87 155.16,501.14 157.31,500.38 159.47,499.59 161.62,498.78 163.78,497.94 165.93,497.08 168.08,496.22 170.24,495.34 172.39,494.46 174.55,493.59 176.7,492.73 178.85,491.89 181.01,491.07 183.16,490.29 185.32,489.55 187.47,488.86 189.62,488.22 191.78,487.64 193.93,487.13 196.09,486.69 198.24,486.33 200.39,486.05 202.55,485.85 204.7,485.74 206.86,485.71 209.01,485.77 211.16,485.92 213.32,486.15 215.47,486.46 217.63,486.86 219.78,487.33 221.93,487.86 224.09,488.47 226.24,489.13 228.4,489.84 230.55,490.6 232.7,491.4 234.86,492.22 237.01,493.07 239.17,493.94 241.32,494.81 243.47,495.69 245.63,496.56 247.78,497.43 249.94,498.28 252.09,499.11 254.24,499.91 256.4,500.69 258.55,501.44 260.71,502.15 262.86,502.82 265.01,503.46 267.17,504.06 269.32,504.62 271.48,505.15 273.63,505.63 275.78,506.08 277.94,506.49 280.09,506.86 282.25,507.2 284.4,507.51 286.55,507.79 288.71,508.04 290.86,508.26 293.02,508.46 295.17,508.64 297.32,508.79 299.48,508.93 301.63,509.05 303.79,509.15 305.94,509.24 308.09,509.32 310.25,509.39 312.4,509.44 314.56,509.49 316.71,509.53 318.86,509.57 321.02,509.6 323.17,509.62 325.33,509.64 327.48,509.66 329.63,509.68 331.79,509.69 333.94,509.7 336.1,509.71 338.25,509.71 340.4,509.72 342.56,509.72 344.71,509.73 346.87,509.73 349.02,509.73 351.17,509.73 353.33,509.73 355.48,509.74 357.64,509.74 359.79,509.74 361.94,509.74 364.1,509.74 366.25,509.74 368.41,509.74 370.56,509.74 372.71,509.74 374.87,509.74 377.02,509.74 379.18,509.74 381.33,509.74 383.48,509.74 385.64,509.74 387.79,509.74 389.95,509.74 392.1,509.74 394.25,509.74 396.41,509.74 398.56,509.74 400.72,509.74 402.87,509.74 405.02,509.74 407.18,509.74 409.33,509.74 411.49,509.74 413.64,509.74 415.79,509.74 417.95,509.74 420.1,509.74 422.26,509.74 424.41,509.74 426.56,509.74 428.72,509.74 430.87,509.74 433.03,509.74 435.18,509.74 437.33,509.74 439.49,509.74 441.64,509.74 443.8,509.74 445.95,509.74 448.1,509.74 450.26,509.74 452.41,509.74 454.57,509.74 456.72,509.74 458.87,509.74 461.03,509.74 463.18,509.74 465.34,509.74 467.49,509.74 469.64,509.74 471.8,509.74 473.95,509.74 476.11,509.74 478.26,509.74 480.41,509.74 482.57,509.74 484.72,509.74 486.88,509.74 489.03,509.74 491.18,509.74 493.34,509.74 495.49,509.74 497.65,509.74 499.8,509.74 501.95,509.74 504.11,509.74 506.26,509.74 508.42,509.74 510.57,509.74 512.72,509.74 514.88,509.74" fill="none" stroke="#141414" stroke-width="1.3" stroke-linejoin="round" clip-path="url(#clB1)"/>
<clipPath id="clB1"><rect x="116.6" y="453.44" width="400.1" height="56.3"/></clipPath>
<rect x="116.6" y="453.44" width="400.1" height="56.3" rx="0.8" fill="none" stroke="#1c1c1c" stroke-width="1.5"/>
<line x1="112.1" y1="509.74" x2="116.6" y2="509.74" stroke="#000" stroke-width="1.25"/>
<line x1="112.1" y1="504.74" x2="116.6" y2="504.74" stroke="#000" stroke-width="1.25"/>
<line x1="112.1" y1="499.74" x2="116.6" y2="499.74" stroke="#000" stroke-width="1.25"/>
<line x1="112.1" y1="494.74" x2="116.6" y2="494.74" stroke="#000" stroke-width="1.25"/>
<line x1="112.1" y1="489.74" x2="116.6" y2="489.74" stroke="#000" stroke-width="1.25"/>
<line x1="112.1" y1="484.74" x2="116.6" y2="484.74" stroke="#000" stroke-width="1.25"/>
<line x1="112.1" y1="479.74" x2="116.6" y2="479.74" stroke="#000" stroke-width="1.25"/>
<line x1="112.1" y1="474.74" x2="116.6" y2="474.74" stroke="#000" stroke-width="1.25"/>
<text x="108.0" y="518.04" text-anchor="end" font-family="'Liberation Serif', serif" font-size="16" fill="#111" stroke="#111" stroke-width="0.2">0</text>
<text x="108.0" y="498.04" text-anchor="end" font-family="'Liberation Serif', serif" font-size="16" fill="#111" stroke="#111" stroke-width="0.2">20</text>
<text x="446.2" y="473.64" font-family="'Liberation Serif', serif" font-size="9.2" fill="#111" stroke="#111" stroke-width="0.3">N <tspan fill="#555" stroke="#555">=</tspan></text>
<text x="505.8" y="473.64" text-anchor="end" font-family="'Liberation Serif', serif" font-size="9.2" fill="#111" stroke="#111" stroke-width="0.3">118</text>
<text x="446.2" y="487.74" font-family="'Liberation Serif', serif" font-size="9.2" fill="#111" stroke="#111" stroke-width="0.3">Mean <tspan fill="#555" stroke="#555">=</tspan></text>
<text x="505.8" y="487.74" text-anchor="end" font-family="'Liberation Serif', serif" font-size="9.2" fill="#111" stroke="#111" stroke-width="0.3">19.4</text>
<text x="446.2" y="501.84" font-family="'Liberation Serif', serif" font-size="9.2" fill="#111" stroke="#111" stroke-width="0.3">SD <tspan fill="#555" stroke="#555">=</tspan></text>
<text x="505.8" y="501.84" text-anchor="end" font-family="'Liberation Serif', serif" font-size="9.2" fill="#111" stroke="#111" stroke-width="0.3">8.3</text>
<rect x="30.1" y="512.43" width="25.2" height="56.3" rx="1.0" fill="none" stroke="#1c1c1c" stroke-width="1.5"/>
<text transform="translate(48.9 540.58) rotate(-90)" text-anchor="middle" font-family="'Liberation Serif', serif" font-size="16" fill="#111" stroke="#111" stroke-width="0.2">3</text>
<text transform="translate(81.8 539.98) rotate(-90)" text-anchor="middle" font-family="'Liberation Serif', serif" font-size="16" fill="#111" stroke="#111" stroke-width="0.2">Percent</text>
<rect x="187.47" y="565.53" width="21.54" height="3.2" fill="#cdcdcd" stroke="#8c8c8c" stroke-width="0.8"/>
<rect x="209.01" y="565.53" width="21.54" height="3.2" fill="#cdcdcd" stroke="#8c8c8c" stroke-width="0.8"/>
<rect x="230.55" y="563.93" width="21.54" height="4.8" fill="#cdcdcd" stroke="#8c8c8c" stroke-width="0.8"/>
<rect x="252.09" y="542.93" width="21.54" height="25.8" fill="#cdcdcd" stroke="#8c8c8c" stroke-width="0.8"/>
<rect x="273.63" y="554.23" width="21.54" height="14.5" fill="#cdcdcd" stroke="#8c8c8c" stroke-width="0.8"/>
<rect x="295.17" y="544.53" width="21.54" height="24.2" fill="#cdcdcd" stroke="#8c8c8c" stroke-width="0.8"/>
<rect x="316.71" y="554.23" width="21.54" height="14.5" fill="#cdcdcd" stroke="#8c8c8c" stroke-width="0.8"/>
<rect x="338.25" y="563.73" width="21.54" height="5" fill="#cdcdcd" stroke="#8c8c8c" stroke-width="0.8"/>
<rect x="359.79" y="565.53" width="21.54" height="3.2" fill="#cdcdcd" stroke="#8c8c8c" stroke-width="0.8"/>
<rect x="381.33" y="567.13" width="21.54" height="1.6" fill="#cdcdcd" stroke="#8c8c8c" stroke-width="0.8"/>
<polyline points="122.85,568.73 125,568.73 127.16,568.73 129.31,568.73 131.47,568.72 133.62,568.72 135.77,568.72 137.93,568.72 140.08,568.72 142.24,568.71 144.39,568.71 146.54,568.71 148.7,568.7 150.85,568.69 153.01,568.69 155.16,568.68 157.31,568.66 159.47,568.65 161.62,568.63 163.78,568.61 165.93,568.59 168.08,568.57 170.24,568.53 172.39,568.5 174.55,568.45 176.7,568.41 178.85,568.35 181.01,568.28 183.16,568.21 185.32,568.12 187.47,568.02 189.62,567.91 191.78,567.79 193.93,567.64 196.09,567.49 198.24,567.31 200.39,567.11 202.55,566.89 204.7,566.65 206.86,566.38 209.01,566.09 211.16,565.76 213.32,565.41 215.47,565.04 217.63,564.63 219.78,564.19 221.93,563.71 224.09,563.21 226.24,562.68 228.4,562.11 230.55,561.51 232.7,560.89 234.86,560.24 237.01,559.56 239.17,558.86 241.32,558.14 243.47,557.41 245.63,556.66 247.78,555.9 249.94,555.14 252.09,554.37 254.24,553.62 256.4,552.87 258.55,552.14 260.71,551.42 262.86,550.74 265.01,550.09 267.17,549.47 269.32,548.9 271.48,548.37 273.63,547.89 275.78,547.48 277.94,547.12 280.09,546.82 282.25,546.59 284.4,546.43 286.55,546.34 288.71,546.32 290.86,546.37 293.02,546.49 295.17,546.68 297.32,546.93 299.48,547.25 301.63,547.64 303.79,548.08 305.94,548.57 308.09,549.12 310.25,549.71 312.4,550.34 314.56,551.01 316.71,551.71 318.86,552.43 321.02,553.17 323.17,553.92 325.33,554.68 327.48,555.44 329.63,556.2 331.79,556.96 333.94,557.7 336.1,558.43 338.25,559.14 340.4,559.84 342.56,560.5 344.71,561.14 346.87,561.76 349.02,562.34 351.17,562.89 353.33,563.42 355.48,563.91 357.64,564.37 359.79,564.79 361.94,565.19 364.1,565.56 366.25,565.9 368.41,566.21 370.56,566.49 372.71,566.75 374.87,566.98 377.02,567.19 379.18,567.38 381.33,567.55 383.48,567.7 385.64,567.84 387.79,567.96 389.95,568.06 392.1,568.16 394.25,568.24 396.41,568.31 398.56,568.37 400.72,568.43 402.87,568.47 405.02,568.51 407.18,568.55 409.33,568.58 411.49,568.6 413.64,568.62 415.79,568.64 417.95,568.66 420.1,568.67 422.26,568.68 424.41,568.69 426.56,568.7 428.72,568.7 430.87,568.71 433.03,568.71 435.18,568.72 437.33,568.72 439.49,568.72 441.64,568.72 443.8,568.72 445.95,568.73 448.1,568.73 450.26,568.73 452.41,568.73 454.57,568.73 456.72,568.73 458.87,568.73 461.03,568.73 463.18,568.73 465.34,568.73 467.49,568.73 469.64,568.73 471.8,568.73 473.95,568.73 476.11,568.73 478.26,568.73 480.41,568.73 482.57,568.73 484.72,568.73 486.88,568.73 489.03,568.73 491.18,568.73 493.34,568.73 495.49,568.73 497.65,568.73 499.8,568.73 501.95,568.73 504.11,568.73 506.26,568.73 508.42,568.73 510.57,568.73 512.72,568.73 514.88,568.73" fill="none" stroke="#141414" stroke-width="1.3" stroke-linejoin="round" clip-path="url(#clB2)"/>
<clipPath id="clB2"><rect x="116.6" y="512.43" width="400.1" height="56.3"/></clipPath>
<rect x="116.6" y="512.43" width="400.1" height="56.3" rx="0.8" fill="none" stroke="#1c1c1c" stroke-width="1.5"/>
<line x1="112.1" y1="568.73" x2="116.6" y2="568.73" stroke="#000" stroke-width="1.25"/>
<line x1="112.1" y1="563.73" x2="116.6" y2="563.73" stroke="#000" stroke-width="1.25"/>
<line x1="112.1" y1="558.73" x2="116.6" y2="558.73" stroke="#000" stroke-width="1.25"/>
<line x1="112.1" y1="553.73" x2="116.6" y2="553.73" stroke="#000" stroke-width="1.25"/>
<line x1="112.1" y1="548.73" x2="116.6" y2="548.73" stroke="#000" stroke-width="1.25"/>
<line x1="112.1" y1="543.73" x2="116.6" y2="543.73" stroke="#000" stroke-width="1.25"/>
<line x1="112.1" y1="538.73" x2="116.6" y2="538.73" stroke="#000" stroke-width="1.25"/>
<line x1="112.1" y1="533.73" x2="116.6" y2="533.73" stroke="#000" stroke-width="1.25"/>
<text x="108.0" y="577.03" text-anchor="end" font-family="'Liberation Serif', serif" font-size="16" fill="#111" stroke="#111" stroke-width="0.2">0</text>
<text x="108.0" y="557.03" text-anchor="end" font-family="'Liberation Serif', serif" font-size="16" fill="#111" stroke="#111" stroke-width="0.2">20</text>
<text x="446.2" y="532.63" font-family="'Liberation Serif', serif" font-size="9.2" fill="#111" stroke="#111" stroke-width="0.3">N <tspan fill="#555" stroke="#555">=</tspan></text>
<text x="505.8" y="532.63" text-anchor="end" font-family="'Liberation Serif', serif" font-size="9.2" fill="#111" stroke="#111" stroke-width="0.3">62</text>
<text x="446.2" y="546.73" font-family="'Liberation Serif', serif" font-size="9.2" fill="#111" stroke="#111" stroke-width="0.3">Mean <tspan fill="#555" stroke="#555">=</tspan></text>
<text x="505.8" y="546.73" text-anchor="end" font-family="'Liberation Serif', serif" font-size="9.2" fill="#111" stroke="#111" stroke-width="0.3">38.4</text>
<text x="446.2" y="560.83" font-family="'Liberation Serif', serif" font-size="9.2" fill="#111" stroke="#111" stroke-width="0.3">SD <tspan fill="#555" stroke="#555">=</tspan></text>
<text x="505.8" y="560.83" text-anchor="end" font-family="'Liberation Serif', serif" font-size="9.2" fill="#111" stroke="#111" stroke-width="0.3">8.9</text>
<rect x="30.1" y="571.42" width="25.2" height="56.3" rx="1.0" fill="none" stroke="#1c1c1c" stroke-width="1.5"/>
<text transform="translate(48.9 599.57) rotate(-90)" text-anchor="middle" font-family="'Liberation Serif', serif" font-size="16" fill="#111" stroke="#111" stroke-width="0.2">4</text>
<text transform="translate(81.8 598.97) rotate(-90)" text-anchor="middle" font-family="'Liberation Serif', serif" font-size="16" fill="#111" stroke="#111" stroke-width="0.2">Percent</text>
<rect x="230.55" y="615.82" width="21.54" height="11.9" fill="#cdcdcd" stroke="#8c8c8c" stroke-width="0.8"/>
<rect x="252.09" y="598.92" width="21.54" height="28.8" fill="#cdcdcd" stroke="#8c8c8c" stroke-width="0.8"/>
<rect x="273.63" y="614.12" width="21.54" height="13.6" fill="#cdcdcd" stroke="#8c8c8c" stroke-width="0.8"/>
<rect x="295.17" y="607.42" width="21.54" height="20.3" fill="#cdcdcd" stroke="#8c8c8c" stroke-width="0.8"/>
<rect x="316.71" y="609.12" width="21.54" height="18.6" fill="#cdcdcd" stroke="#8c8c8c" stroke-width="0.8"/>
<rect x="338.25" y="622.62" width="21.54" height="5.1" fill="#cdcdcd" stroke="#8c8c8c" stroke-width="0.8"/>
<polyline points="122.85,627.72 125,627.72 127.16,627.72 129.31,627.72 131.47,627.72 133.62,627.72 135.77,627.72 137.93,627.72 140.08,627.72 142.24,627.72 144.39,627.72 146.54,627.72 148.7,627.72 150.85,627.72 153.01,627.71 155.16,627.71 157.31,627.71 159.47,627.71 161.62,627.7 163.78,627.7 165.93,627.69 168.08,627.69 170.24,627.68 172.39,627.67 174.55,627.65 176.7,627.64 178.85,627.62 181.01,627.59 183.16,627.56 185.32,627.53 187.47,627.48 189.62,627.43 191.78,627.37 193.93,627.3 196.09,627.21 198.24,627.11 200.39,627 202.55,626.86 204.7,626.71 206.86,626.53 209.01,626.32 211.16,626.08 213.32,625.82 215.47,625.52 217.63,625.18 219.78,624.81 221.93,624.39 224.09,623.93 226.24,623.43 228.4,622.88 230.55,622.28 232.7,621.63 234.86,620.93 237.01,620.18 239.17,619.39 241.32,618.55 243.47,617.68 245.63,616.76 247.78,615.81 249.94,614.83 252.09,613.84 254.24,612.82 256.4,611.8 258.55,610.79 260.71,609.78 262.86,608.79 265.01,607.83 267.17,606.92 269.32,606.05 271.48,605.24 273.63,604.5 275.78,603.83 277.94,603.25 280.09,602.76 282.25,602.37 284.4,602.08 286.55,601.89 288.71,601.82 290.86,601.85 293.02,601.99 295.17,602.24 297.32,602.59 299.48,603.04 301.63,603.59 303.79,604.22 305.94,604.93 308.09,605.72 310.25,606.56 312.4,607.46 314.56,608.4 316.71,609.38 318.86,610.38 321.02,611.4 323.17,612.42 325.33,613.43 327.48,614.44 329.63,615.42 331.79,616.38 333.94,617.31 336.1,618.21 338.25,619.06 340.4,619.87 342.56,620.64 344.71,621.35 346.87,622.02 349.02,622.64 351.17,623.21 353.33,623.74 355.48,624.21 357.64,624.65 359.79,625.04 361.94,625.39 364.1,625.7 366.25,625.98 368.41,626.23 370.56,626.45 372.71,626.64 374.87,626.8 377.02,626.95 379.18,627.07 381.33,627.18 383.48,627.27 385.64,627.34 387.79,627.41 389.95,627.46 392.1,627.51 394.25,627.55 396.41,627.58 398.56,627.61 400.72,627.63 402.87,627.65 405.02,627.66 407.18,627.67 409.33,627.68 411.49,627.69 413.64,627.7 415.79,627.7 417.95,627.71 420.1,627.71 422.26,627.71 424.41,627.71 426.56,627.72 428.72,627.72 430.87,627.72 433.03,627.72 435.18,627.72 437.33,627.72 439.49,627.72 441.64,627.72 443.8,627.72 445.95,627.72 448.1,627.72 450.26,627.72 452.41,627.72 454.57,627.72 456.72,627.72 458.87,627.72 461.03,627.72 463.18,627.72 465.34,627.72 467.49,627.72 469.64,627.72 471.8,627.72 473.95,627.72 476.11,627.72 478.26,627.72 480.41,627.72 482.57,627.72 484.72,627.72 486.88,627.72 489.03,627.72 491.18,627.72 493.34,627.72 495.49,627.72 497.65,627.72 499.8,627.72 501.95,627.72 504.11,627.72 506.26,627.72 508.42,627.72 510.57,627.72 512.72,627.72 514.88,627.72" fill="none" stroke="#141414" stroke-width="1.3" stroke-linejoin="round" clip-path="url(#clB3)"/>
<clipPath id="clB3"><rect x="116.6" y="571.42" width="400.1" height="56.3"/></clipPath>
<rect x="116.6" y="571.42" width="400.1" height="56.3" rx="0.8" fill="none" stroke="#1c1c1c" stroke-width="1.5"/>
<line x1="112.1" y1="627.72" x2="116.6" y2="627.72" stroke="#000" stroke-width="1.25"/>
<line x1="112.1" y1="622.72" x2="116.6" y2="622.72" stroke="#000" stroke-width="1.25"/>
<line x1="112.1" y1="617.72" x2="116.6" y2="617.72" stroke="#000" stroke-width="1.25"/>
<line x1="112.1" y1="612.72" x2="116.6" y2="612.72" stroke="#000" stroke-width="1.25"/>
<line x1="112.1" y1="607.72" x2="116.6" y2="607.72" stroke="#000" stroke-width="1.25"/>
<line x1="112.1" y1="602.72" x2="116.6" y2="602.72" stroke="#000" stroke-width="1.25"/>
<line x1="112.1" y1="597.72" x2="116.6" y2="597.72" stroke="#000" stroke-width="1.25"/>
<line x1="112.1" y1="592.72" x2="116.6" y2="592.72" stroke="#000" stroke-width="1.25"/>
<text x="108.0" y="636.02" text-anchor="end" font-family="'Liberation Serif', serif" font-size="16" fill="#111" stroke="#111" stroke-width="0.2">0</text>
<text x="108.0" y="616.02" text-anchor="end" font-family="'Liberation Serif', serif" font-size="16" fill="#111" stroke="#111" stroke-width="0.2">20</text>
<text x="446.2" y="591.62" font-family="'Liberation Serif', serif" font-size="9.2" fill="#111" stroke="#111" stroke-width="0.3">N <tspan fill="#555" stroke="#555">=</tspan></text>
<text x="505.8" y="591.62" text-anchor="end" font-family="'Liberation Serif', serif" font-size="9.2" fill="#111" stroke="#111" stroke-width="0.3">59</text>
<text x="446.2" y="605.72" font-family="'Liberation Serif', serif" font-size="9.2" fill="#111" stroke="#111" stroke-width="0.3">Mean <tspan fill="#555" stroke="#555">=</tspan></text>
<text x="505.8" y="605.72" text-anchor="end" font-family="'Liberation Serif', serif" font-size="9.2" fill="#111" stroke="#111" stroke-width="0.3">38.6</text>
<text x="446.2" y="619.82" font-family="'Liberation Serif', serif" font-size="9.2" fill="#111" stroke="#111" stroke-width="0.3">SD <tspan fill="#555" stroke="#555">=</tspan></text>
<text x="505.8" y="619.82" text-anchor="end" font-family="'Liberation Serif', serif" font-size="9.2" fill="#111" stroke="#111" stroke-width="0.3">7.7</text>
<rect x="30.1" y="630.41" width="25.2" height="56.3" rx="1.0" fill="none" stroke="#1c1c1c" stroke-width="1.5"/>
<text transform="translate(48.9 658.56) rotate(-90)" text-anchor="middle" font-family="'Liberation Serif', serif" font-size="16" fill="#111" stroke="#111" stroke-width="0.2">5</text>
<text transform="translate(81.8 657.96) rotate(-90)" text-anchor="middle" font-family="'Liberation Serif', serif" font-size="16" fill="#111" stroke="#111" stroke-width="0.2">Percent</text>
<rect x="295.17" y="679.31" width="21.54" height="7.4" fill="#cdcdcd" stroke="#8c8c8c" stroke-width="0.8"/>
<rect x="316.71" y="671.91" width="21.54" height="14.8" fill="#cdcdcd" stroke="#8c8c8c" stroke-width="0.8"/>
<rect x="338.25" y="671.91" width="21.54" height="14.8" fill="#cdcdcd" stroke="#8c8c8c" stroke-width="0.8"/>
<rect x="359.79" y="668.21" width="21.54" height="18.5" fill="#cdcdcd" stroke="#8c8c8c" stroke-width="0.8"/>
<rect x="381.33" y="660.81" width="21.54" height="25.9" fill="#cdcdcd" stroke="#8c8c8c" stroke-width="0.8"/>
<rect x="402.87" y="683.01" width="21.54" height="3.7" fill="#cdcdcd" stroke="#8c8c8c" stroke-width="0.8"/>
<rect x="424.41" y="683.01" width="21.54" height="3.7" fill="#cdcdcd" stroke="#8c8c8c" stroke-width="0.8"/>
<rect x="445.95" y="675.61" width="21.54" height="11.1" fill="#cdcdcd" stroke="#8c8c8c" stroke-width="0.8"/>
<polyline points="122.85,686.71 125,686.71 127.16,686.71 129.31,686.71 131.47,686.71 133.62,686.71 135.77,686.71 137.93,686.71 140.08,686.71 142.24,686.71 144.39,686.71 146.54,686.71 148.7,686.71 150.85,686.71 153.01,686.71 155.16,686.71 157.31,686.71 159.47,686.71 161.62,686.71 163.78,686.71 165.93,686.71 168.08,686.71 170.24,686.71 172.39,686.71 174.55,686.71 176.7,686.71 178.85,686.71 181.01,686.71 183.16,686.71 185.32,686.71 187.47,686.71 189.62,686.71 191.78,686.71 193.93,686.71 196.09,686.71 198.24,686.7 200.39,686.7 202.55,686.7 204.7,686.7 206.86,686.7 209.01,686.7 211.16,686.69 213.32,686.69 215.47,686.69 217.63,686.68 219.78,686.67 221.93,686.67 224.09,686.66 226.24,686.65 228.4,686.64 230.55,686.63 232.7,686.61 234.86,686.59 237.01,686.58 239.17,686.55 241.32,686.53 243.47,686.5 245.63,686.46 247.78,686.42 249.94,686.38 252.09,686.33 254.24,686.27 256.4,686.21 258.55,686.14 260.71,686.06 262.86,685.97 265.01,685.87 267.17,685.76 269.32,685.64 271.48,685.51 273.63,685.36 275.78,685.2 277.94,685.02 280.09,684.83 282.25,684.62 284.4,684.39 286.55,684.14 288.71,683.87 290.86,683.59 293.02,683.28 295.17,682.95 297.32,682.6 299.48,682.23 301.63,681.84 303.79,681.43 305.94,680.99 308.09,680.53 310.25,680.06 312.4,679.56 314.56,679.05 316.71,678.52 318.86,677.97 321.02,677.41 323.17,676.84 325.33,676.26 327.48,675.68 329.63,675.09 331.79,674.49 333.94,673.9 336.1,673.31 338.25,672.73 340.4,672.17 342.56,671.61 344.71,671.07 346.87,670.55 349.02,670.06 351.17,669.59 353.33,669.15 355.48,668.75 357.64,668.38 359.79,668.05 361.94,667.76 364.1,667.51 366.25,667.31 368.41,667.15 370.56,667.04 372.71,666.98 374.87,666.96 377.02,667 379.18,667.08 381.33,667.21 383.48,667.38 385.64,667.6 387.79,667.87 389.95,668.18 392.1,668.52 394.25,668.91 396.41,669.32 398.56,669.77 400.72,670.25 402.87,670.76 405.02,671.28 407.18,671.83 409.33,672.39 411.49,672.97 413.64,673.55 415.79,674.14 417.95,674.73 420.1,675.32 422.26,675.91 424.41,676.5 426.56,677.07 428.72,677.64 430.87,678.19 433.03,678.73 435.18,679.26 437.33,679.76 439.49,680.25 441.64,680.72 443.8,681.17 445.95,681.59 448.1,682 450.26,682.38 452.41,682.75 454.57,683.09 456.72,683.41 458.87,683.71 461.03,683.98 463.18,684.24 465.34,684.48 467.49,684.7 469.64,684.91 471.8,685.09 473.95,685.27 476.11,685.42 478.26,685.56 480.41,685.69 482.57,685.81 484.72,685.91 486.88,686.01 489.03,686.09 491.18,686.17 493.34,686.24 495.49,686.3 497.65,686.35 499.8,686.4 501.95,686.44 504.11,686.48 506.26,686.51 508.42,686.54 510.57,686.56 512.72,686.58 514.88,686.6" fill="none" stroke="#141414" stroke-width="1.3" stroke-linejoin="round" clip-path="url(#clB4)"/>
<clipPath id="clB4"><rect x="116.6" y="630.41" width="400.1" height="56.3"/></clipPath>
<rect x="116.6" y="630.41" width="400.1" height="56.3" rx="0.8" fill="none" stroke="#1c1c1c" stroke-width="1.5"/>
<line x1="112.1" y1="686.71" x2="116.6" y2="686.71" stroke="#000" stroke-width="1.25"/>
<line x1="112.1" y1="681.71" x2="116.6" y2="681.71" stroke="#000" stroke-width="1.25"/>
<line x1="112.1" y1="676.71" x2="116.6" y2="676.71" stroke="#000" stroke-width="1.25"/>
<line x1="112.1" y1="671.71" x2="116.6" y2="671.71" stroke="#000" stroke-width="1.25"/>
<line x1="112.1" y1="666.71" x2="116.6" y2="666.71" stroke="#000" stroke-width="1.25"/>
<line x1="112.1" y1="661.71" x2="116.6" y2="661.71" stroke="#000" stroke-width="1.25"/>
<line x1="112.1" y1="656.71" x2="116.6" y2="656.71" stroke="#000" stroke-width="1.25"/>
<line x1="112.1" y1="651.71" x2="116.6" y2="651.71" stroke="#000" stroke-width="1.25"/>
<text x="108.0" y="695.01" text-anchor="end" font-family="'Liberation Serif', serif" font-size="16" fill="#111" stroke="#111" stroke-width="0.2">0</text>
<text x="108.0" y="675.01" text-anchor="end" font-family="'Liberation Serif', serif" font-size="16" fill="#111" stroke="#111" stroke-width="0.2">20</text>
<text x="446.2" y="650.61" font-family="'Liberation Serif', serif" font-size="9.2" fill="#111" stroke="#111" stroke-width="0.3">N <tspan fill="#555" stroke="#555">=</tspan></text>
<text x="505.8" y="650.61" text-anchor="end" font-family="'Liberation Serif', serif" font-size="9.2" fill="#111" stroke="#111" stroke-width="0.3">27</text>
<text x="446.2" y="664.71" font-family="'Liberation Serif', serif" font-size="9.2" fill="#111" stroke="#111" stroke-width="0.3">Mean <tspan fill="#555" stroke="#555">=</tspan></text>
<text x="505.8" y="664.71" text-anchor="end" font-family="'Liberation Serif', serif" font-size="9.2" fill="#111" stroke="#111" stroke-width="0.3">58.4</text>
<text x="446.2" y="678.81" font-family="'Liberation Serif', serif" font-size="9.2" fill="#111" stroke="#111" stroke-width="0.3">SD <tspan fill="#555" stroke="#555">=</tspan></text>
<text x="505.8" y="678.81" text-anchor="end" font-family="'Liberation Serif', serif" font-size="9.2" fill="#111" stroke="#111" stroke-width="0.3">10.1</text>
<line x1="122.85" y1="686.71" x2="122.85" y2="690.71" stroke="#1c1c1c" stroke-width="1.2"/>
<text x="122.85" y="711.4" text-anchor="middle" font-family="'Liberation Serif', serif" font-size="16" fill="#111" stroke="#111" stroke-width="0.2">0</text>
<line x1="144.39" y1="686.71" x2="144.39" y2="690.71" stroke="#1c1c1c" stroke-width="1.2"/>
<text x="144.39" y="711.4" text-anchor="middle" font-family="'Liberation Serif', serif" font-size="16" fill="#111" stroke="#111" stroke-width="0.2">5</text>
<line x1="165.93" y1="686.71" x2="165.93" y2="690.71" stroke="#1c1c1c" stroke-width="1.2"/>
<text x="165.93" y="711.4" text-anchor="middle" font-family="'Liberation Serif', serif" font-size="16" fill="#111" stroke="#111" stroke-width="0.2">10</text>
<line x1="187.47" y1="686.71" x2="187.47" y2="690.71" stroke="#1c1c1c" stroke-width="1.2"/>
<text x="187.47" y="711.4" text-anchor="middle" font-family="'Liberation Serif', serif" font-size="16" fill="#111" stroke="#111" stroke-width="0.2">15</text>
<line x1="209.01" y1="686.71" x2="209.01" y2="690.71" stroke="#1c1c1c" stroke-width="1.2"/>
<text x="209.01" y="711.4" text-anchor="middle" font-family="'Liberation Serif', serif" font-size="16" fill="#111" stroke="#111" stroke-width="0.2">20</text>
<line x1="230.55" y1="686.71" x2="230.55" y2="690.71" stroke="#1c1c1c" stroke-width="1.2"/>
<text x="230.55" y="711.4" text-anchor="middle" font-family="'Liberation Serif', serif" font-size="16" fill="#111" stroke="#111" stroke-width="0.2">25</text>
<line x1="252.09" y1="686.71" x2="252.09" y2="690.71" stroke="#1c1c1c" stroke-width="1.2"/>
<text x="252.09" y="711.4" text-anchor="middle" font-family="'Liberation Serif', serif" font-size="16" fill="#111" stroke="#111" stroke-width="0.2">30</text>
<line x1="273.63" y1="686.71" x2="273.63" y2="690.71" stroke="#1c1c1c" stroke-width="1.2"/>
<text x="273.63" y="711.4" text-anchor="middle" font-family="'Liberation Serif', serif" font-size="16" fill="#111" stroke="#111" stroke-width="0.2">35</text>
<line x1="295.17" y1="686.71" x2="295.17" y2="690.71" stroke="#1c1c1c" stroke-width="1.2"/>
<text x="295.17" y="711.4" text-anchor="middle" font-family="'Liberation Serif', serif" font-size="16" fill="#111" stroke="#111" stroke-width="0.2">40</text>
<line x1="316.71" y1="686.71" x2="316.71" y2="690.71" stroke="#1c1c1c" stroke-width="1.2"/>
<text x="316.71" y="711.4" text-anchor="middle" font-family="'Liberation Serif', serif" font-size="16" fill="#111" stroke="#111" stroke-width="0.2">45</text>
<line x1="338.25" y1="686.71" x2="338.25" y2="690.71" stroke="#1c1c1c" stroke-width="1.2"/>
<text x="338.25" y="711.4" text-anchor="middle" font-family="'Liberation Serif', serif" font-size="16" fill="#111" stroke="#111" stroke-width="0.2">50</text>
<line x1="359.79" y1="686.71" x2="359.79" y2="690.71" stroke="#1c1c1c" stroke-width="1.2"/>
<text x="359.79" y="711.4" text-anchor="middle" font-family="'Liberation Serif', serif" font-size="16" fill="#111" stroke="#111" stroke-width="0.2">55</text>
<line x1="381.33" y1="686.71" x2="381.33" y2="690.71" stroke="#1c1c1c" stroke-width="1.2"/>
<text x="381.33" y="711.4" text-anchor="middle" font-family="'Liberation Serif', serif" font-size="16" fill="#111" stroke="#111" stroke-width="0.2">60</text>
<line x1="402.87" y1="686.71" x2="402.87" y2="690.71" stroke="#1c1c1c" stroke-width="1.2"/>
<text x="402.87" y="711.4" text-anchor="middle" font-family="'Liberation Serif', serif" font-size="16" fill="#111" stroke="#111" stroke-width="0.2">65</text>
<line x1="424.41" y1="686.71" x2="424.41" y2="690.71" stroke="#1c1c1c" stroke-width="1.2"/>
<text x="424.41" y="711.4" text-anchor="middle" font-family="'Liberation Serif', serif" font-size="16" fill="#111" stroke="#111" stroke-width="0.2">70</text>
<line x1="445.95" y1="686.71" x2="445.95" y2="690.71" stroke="#1c1c1c" stroke-width="1.2"/>
<text x="445.95" y="711.4" text-anchor="middle" font-family="'Liberation Serif', serif" font-size="16" fill="#111" stroke="#111" stroke-width="0.2">75</text>
<line x1="467.49" y1="686.71" x2="467.49" y2="690.71" stroke="#1c1c1c" stroke-width="1.2"/>
<text x="467.49" y="711.4" text-anchor="middle" font-family="'Liberation Serif', serif" font-size="16" fill="#111" stroke="#111" stroke-width="0.2">80</text>
<line x1="489.03" y1="686.71" x2="489.03" y2="690.71" stroke="#1c1c1c" stroke-width="1.2"/>
<text x="489.03" y="711.4" text-anchor="middle" font-family="'Liberation Serif', serif" font-size="16" fill="#111" stroke="#111" stroke-width="0.2">85</text>
<line x1="510.57" y1="686.71" x2="510.57" y2="690.71" stroke="#1c1c1c" stroke-width="1.2"/>
<text x="510.57" y="711.4" text-anchor="middle" font-family="'Liberation Serif', serif" font-size="16" fill="#111" stroke="#111" stroke-width="0.2">90</text>
<text x="316.5" y="737.5" text-anchor="middle" font-family="'Liberation Serif', serif" font-size="16" fill="#111" stroke="#111" stroke-width="0.2">MPN-SAF TSS</text>
<text transform="translate(1.0 757.9) scale(0.95 1.07)" font-family="'Liberation Sans', sans-serif" font-weight="bold" font-size="20" fill="#000">C</text>
<rect x="2.3" y="764.6" width="25.0" height="291.8" rx="1.0" fill="none" stroke="#1c1c1c" stroke-width="1.5"/>
<text transform="translate(21.7 910.5) rotate(-90)" text-anchor="middle" font-family="'Liberation Serif', serif" font-size="16" fill="#111" stroke="#111" stroke-width="0.2">Cluster</text>
<rect x="30.1" y="764.6" width="25.2" height="71" rx="1.0" fill="none" stroke="#1c1c1c" stroke-width="1.5"/>
<text transform="translate(48.9 800.1) rotate(-90)" text-anchor="middle" font-family="'Liberation Serif', serif" font-size="16" fill="#111" stroke="#111" stroke-width="0.2">1</text>
<text transform="translate(81.8 799.5) rotate(-90)" text-anchor="middle" font-family="'Liberation Serif', serif" font-size="16" fill="#111" stroke="#111" stroke-width="0.2">Percent</text>
<rect x="122.85" y="809.22" width="21.54" height="26.38" fill="#cdcdcd" stroke="#8c8c8c" stroke-width="0.8"/>
<rect x="144.39" y="796.38" width="21.54" height="39.21" fill="#cdcdcd" stroke="#8c8c8c" stroke-width="0.8"/>
<rect x="165.93" y="804.23" width="21.54" height="31.37" fill="#cdcdcd" stroke="#8c8c8c" stroke-width="0.8"/>
<rect x="187.47" y="811.79" width="21.54" height="23.81" fill="#cdcdcd" stroke="#8c8c8c" stroke-width="0.8"/>
<rect x="209.01" y="825.62" width="21.54" height="9.98" fill="#cdcdcd" stroke="#8c8c8c" stroke-width="0.8"/>
<rect x="230.55" y="825.62" width="21.54" height="9.98" fill="#cdcdcd" stroke="#8c8c8c" stroke-width="0.8"/>
<rect x="273.63" y="833.6" width="21.54" height="2" fill="#cdcdcd" stroke="#8c8c8c" stroke-width="0.8"/>
<rect x="295.17" y="834.64" width="21.54" height="0.96" fill="#cdcdcd" stroke="#8c8c8c" stroke-width="0.8"/>
<polyline points="122.85,823.99 125,822.83 127.16,821.62 129.31,820.35 131.47,819.04 133.62,817.69 135.77,816.3 137.93,814.9 140.08,813.48 142.24,812.07 144.39,810.66 146.54,809.28 148.7,807.94 150.85,806.65 153.01,805.42 155.16,804.27 157.31,803.21 159.47,802.25 161.62,801.41 163.78,800.68 165.93,800.09 168.08,799.64 170.24,799.32 172.39,799.16 174.55,799.14 176.7,799.28 178.85,799.56 181.01,799.99 183.16,800.55 185.32,801.25 187.47,802.08 189.62,803.01 191.78,804.05 193.93,805.19 196.09,806.4 198.24,807.68 200.39,809.01 202.55,810.38 204.7,811.78 206.86,813.2 209.01,814.61 211.16,816.02 213.32,817.41 215.47,818.77 217.63,820.09 219.78,821.37 221.93,822.59 224.09,823.76 226.24,824.87 228.4,825.91 230.55,826.89 232.7,827.8 234.86,828.65 237.01,829.42 239.17,830.14 241.32,830.79 243.47,831.38 245.63,831.91 247.78,832.39 249.94,832.82 252.09,833.2 254.24,833.54 256.4,833.84 258.55,834.1 260.71,834.32 262.86,834.52 265.01,834.69 267.17,834.84 269.32,834.96 271.48,835.07 273.63,835.16 275.78,835.24 277.94,835.3 280.09,835.36 282.25,835.4 284.4,835.44 286.55,835.47 288.71,835.5 290.86,835.52 293.02,835.53 295.17,835.55 297.32,835.56 299.48,835.57 301.63,835.57 303.79,835.58 305.94,835.58 308.09,835.59 310.25,835.59 312.4,835.59 314.56,835.59 316.71,835.6 318.86,835.6 321.02,835.6 323.17,835.6 325.33,835.6 327.48,835.6 329.63,835.6 331.79,835.6 333.94,835.6 336.1,835.6 338.25,835.6 340.4,835.6 342.56,835.6 344.71,835.6 346.87,835.6 349.02,835.6 351.17,835.6 353.33,835.6 355.48,835.6 357.64,835.6 359.79,835.6 361.94,835.6 364.1,835.6 366.25,835.6 368.41,835.6 370.56,835.6 372.71,835.6 374.87,835.6 377.02,835.6 379.18,835.6 381.33,835.6 383.48,835.6 385.64,835.6 387.79,835.6 389.95,835.6 392.1,835.6 394.25,835.6 396.41,835.6 398.56,835.6 400.72,835.6 402.87,835.6 405.02,835.6 407.18,835.6 409.33,835.6 411.49,835.6 413.64,835.6 415.79,835.6 417.95,835.6 420.1,835.6 422.26,835.6 424.41,835.6 426.56,835.6 428.72,835.6 430.87,835.6 433.03,835.6 435.18,835.6 437.33,835.6 439.49,835.6 441.64,835.6 443.8,835.6 445.95,835.6 448.1,835.6 450.26,835.6 452.41,835.6 454.57,835.6 456.72,835.6 458.87,835.6 461.03,835.6 463.18,835.6 465.34,835.6 467.49,835.6 469.64,835.6 471.8,835.6 473.95,835.6 476.11,835.6 478.26,835.6 480.41,835.6 482.57,835.6 484.72,835.6 486.88,835.6 489.03,835.6 491.18,835.6 493.34,835.6 495.49,835.6 497.65,835.6 499.8,835.6 501.95,835.6 504.11,835.6 506.26,835.6 508.42,835.6 510.57,835.6 512.72,835.6 514.88,835.6" fill="none" stroke="#141414" stroke-width="1.3" stroke-linejoin="round" clip-path="url(#clC0)"/>
<clipPath id="clC0"><rect x="116.6" y="764.6" width="400.1" height="71"/></clipPath>
<rect x="116.6" y="764.6" width="400.1" height="71" rx="0.8" fill="none" stroke="#1c1c1c" stroke-width="1.5"/>
<line x1="112.1" y1="835.6" x2="116.6" y2="835.6" stroke="#000" stroke-width="1.25"/>
<line x1="112.1" y1="828.47" x2="116.6" y2="828.47" stroke="#000" stroke-width="1.25"/>
<line x1="112.1" y1="821.34" x2="116.6" y2="821.34" stroke="#000" stroke-width="1.25"/>
<line x1="112.1" y1="814.21" x2="116.6" y2="814.21" stroke="#000" stroke-width="1.25"/>
<line x1="112.1" y1="807.08" x2="116.6" y2="807.08" stroke="#000" stroke-width="1.25"/>
<line x1="112.1" y1="799.95" x2="116.6" y2="799.95" stroke="#000" stroke-width="1.25"/>
<line x1="112.1" y1="792.82" x2="116.6" y2="792.82" stroke="#000" stroke-width="1.25"/>
<line x1="112.1" y1="785.69" x2="116.6" y2="785.69" stroke="#000" stroke-width="1.25"/>
<text x="108.0" y="843.9" text-anchor="end" font-family="'Liberation Serif', serif" font-size="16" fill="#111" stroke="#111" stroke-width="0.2">0</text>
<text x="108.0" y="822.51" text-anchor="end" font-family="'Liberation Serif', serif" font-size="16" fill="#111" stroke="#111" stroke-width="0.2">15</text>
<text x="108.0" y="801.12" text-anchor="end" font-family="'Liberation Serif', serif" font-size="16" fill="#111" stroke="#111" stroke-width="0.2">30</text>
<text x="428.15" y="788.7" font-family="'Liberation Serif', serif" font-size="11.8" fill="#111" stroke="#111" stroke-width="0.3">N <tspan fill="#555" stroke="#555">=</tspan></text>
<text x="504" y="788.7" text-anchor="end" font-family="'Liberation Serif', serif" font-size="11.8" fill="#111" stroke="#111" stroke-width="0.3">150</text>
<text x="428.15" y="806.7" font-family="'Liberation Serif', serif" font-size="11.8" fill="#111" stroke="#111" stroke-width="0.3">Mean <tspan fill="#555" stroke="#555">=</tspan></text>
<text x="504" y="806.7" text-anchor="end" font-family="'Liberation Serif', serif" font-size="11.8" fill="#111" stroke="#111" stroke-width="0.3">11.8</text>
<text x="428.15" y="824.7" font-family="'Liberation Serif', serif" font-size="11.8" fill="#111" stroke="#111" stroke-width="0.3">SD <tspan fill="#555" stroke="#555">=</tspan></text>
<text x="504" y="824.7" text-anchor="end" font-family="'Liberation Serif', serif" font-size="11.8" fill="#111" stroke="#111" stroke-width="0.3">7.8</text>
<rect x="30.1" y="838.2" width="25.2" height="71" rx="1.0" fill="none" stroke="#1c1c1c" stroke-width="1.5"/>
<text transform="translate(48.9 873.7) rotate(-90)" text-anchor="middle" font-family="'Liberation Serif', serif" font-size="16" fill="#111" stroke="#111" stroke-width="0.2">2</text>
<text transform="translate(81.8 873.1) rotate(-90)" text-anchor="middle" font-family="'Liberation Serif', serif" font-size="16" fill="#111" stroke="#111" stroke-width="0.2">Percent</text>
<rect x="165.93" y="898.93" width="21.54" height="10.27" fill="#cdcdcd" stroke="#8c8c8c" stroke-width="0.8"/>
<rect x="187.47" y="899.65" width="21.54" height="9.55" fill="#cdcdcd" stroke="#8c8c8c" stroke-width="0.8"/>
<rect x="209.01" y="881.82" width="21.54" height="27.38" fill="#cdcdcd" stroke="#8c8c8c" stroke-width="0.8"/>
<rect x="230.55" y="874.98" width="21.54" height="34.22" fill="#cdcdcd" stroke="#8c8c8c" stroke-width="0.8"/>
<rect x="252.09" y="885.96" width="21.54" height="23.24" fill="#cdcdcd" stroke="#8c8c8c" stroke-width="0.8"/>
<rect x="273.63" y="887.38" width="21.54" height="21.82" fill="#cdcdcd" stroke="#8c8c8c" stroke-width="0.8"/>
<rect x="295.17" y="899.65" width="21.54" height="9.55" fill="#cdcdcd" stroke="#8c8c8c" stroke-width="0.8"/>
<rect x="316.71" y="903.78" width="21.54" height="5.42" fill="#cdcdcd" stroke="#8c8c8c" stroke-width="0.8"/>
<rect x="338.25" y="906.63" width="21.54" height="2.57" fill="#cdcdcd" stroke="#8c8c8c" stroke-width="0.8"/>
<polyline points="122.85,909 125,908.96 127.16,908.92 129.31,908.86 131.47,908.8 133.62,908.74 135.77,908.66 137.93,908.56 140.08,908.46 142.24,908.34 144.39,908.21 146.54,908.05 148.7,907.88 150.85,907.69 153.01,907.47 155.16,907.23 157.31,906.96 159.47,906.67 161.62,906.34 163.78,905.98 165.93,905.58 168.08,905.15 170.24,904.68 172.39,904.18 174.55,903.63 176.7,903.04 178.85,902.41 181.01,901.73 183.16,901.02 185.32,900.26 187.47,899.47 189.62,898.63 191.78,897.76 193.93,896.85 196.09,895.91 198.24,894.94 200.39,893.95 202.55,892.93 204.7,891.9 206.86,890.87 209.01,889.82 211.16,888.79 213.32,887.76 215.47,886.74 217.63,885.75 219.78,884.79 221.93,883.87 224.09,882.99 226.24,882.16 228.4,881.39 230.55,880.68 232.7,880.05 234.86,879.49 237.01,879.01 239.17,878.62 241.32,878.31 243.47,878.09 245.63,877.97 247.78,877.94 249.94,878.01 252.09,878.17 254.24,878.42 256.4,878.76 258.55,879.19 260.71,879.7 262.86,880.29 265.01,880.96 267.17,881.69 269.32,882.49 271.48,883.33 273.63,884.23 275.78,885.17 277.94,886.14 280.09,887.15 282.25,888.17 284.4,889.2 286.55,890.24 288.71,891.28 290.86,892.32 293.02,893.34 295.17,894.34 297.32,895.33 299.48,896.29 301.63,897.21 303.79,898.11 305.94,898.97 308.09,899.79 310.25,900.57 312.4,901.31 314.56,902.01 316.71,902.66 318.86,903.28 321.02,903.85 323.17,904.38 325.33,904.88 327.48,905.33 329.63,905.75 331.79,906.13 333.94,906.47 336.1,906.79 338.25,907.07 340.4,907.33 342.56,907.56 344.71,907.77 346.87,907.95 349.02,908.12 351.17,908.26 353.33,908.39 355.48,908.5 357.64,908.6 359.79,908.69 361.94,908.76 364.1,908.83 366.25,908.89 368.41,908.93 370.56,908.98 372.71,909.01 374.87,909.04 377.02,909.07 379.18,909.09 381.33,909.11 383.48,909.12 385.64,909.14 387.79,909.15 389.95,909.16 392.1,909.17 394.25,909.17 396.41,909.18 398.56,909.18 400.72,909.19 402.87,909.19 405.02,909.19 407.18,909.19 409.33,909.19 411.49,909.2 413.64,909.2 415.79,909.2 417.95,909.2 420.1,909.2 422.26,909.2 424.41,909.2 426.56,909.2 428.72,909.2 430.87,909.2 433.03,909.2 435.18,909.2 437.33,909.2 439.49,909.2 441.64,909.2 443.8,909.2 445.95,909.2 448.1,909.2 450.26,909.2 452.41,909.2 454.57,909.2 456.72,909.2 458.87,909.2 461.03,909.2 463.18,909.2 465.34,909.2 467.49,909.2 469.64,909.2 471.8,909.2 473.95,909.2 476.11,909.2 478.26,909.2 480.41,909.2 482.57,909.2 484.72,909.2 486.88,909.2 489.03,909.2 491.18,909.2 493.34,909.2 495.49,909.2 497.65,909.2 499.8,909.2 501.95,909.2 504.11,909.2 506.26,909.2 508.42,909.2 510.57,909.2 512.72,909.2 514.88,909.2" fill="none" stroke="#141414" stroke-width="1.3" stroke-linejoin="round" clip-path="url(#clC1)"/>
<clipPath id="clC1"><rect x="116.6" y="838.2" width="400.1" height="71"/></clipPath>
<rect x="116.6" y="838.2" width="400.1" height="71" rx="0.8" fill="none" stroke="#1c1c1c" stroke-width="1.5"/>
<line x1="112.1" y1="909.2" x2="116.6" y2="909.2" stroke="#000" stroke-width="1.25"/>
<line x1="112.1" y1="902.07" x2="116.6" y2="902.07" stroke="#000" stroke-width="1.25"/>
<line x1="112.1" y1="894.94" x2="116.6" y2="894.94" stroke="#000" stroke-width="1.25"/>
<line x1="112.1" y1="887.81" x2="116.6" y2="887.81" stroke="#000" stroke-width="1.25"/>
<line x1="112.1" y1="880.68" x2="116.6" y2="880.68" stroke="#000" stroke-width="1.25"/>
<line x1="112.1" y1="873.55" x2="116.6" y2="873.55" stroke="#000" stroke-width="1.25"/>
<line x1="112.1" y1="866.42" x2="116.6" y2="866.42" stroke="#000" stroke-width="1.25"/>
<line x1="112.1" y1="859.29" x2="116.6" y2="859.29" stroke="#000" stroke-width="1.25"/>
<text x="108.0" y="917.5" text-anchor="end" font-family="'Liberation Serif', serif" font-size="16" fill="#111" stroke="#111" stroke-width="0.2">0</text>
<text x="108.0" y="896.11" text-anchor="end" font-family="'Liberation Serif', serif" font-size="16" fill="#111" stroke="#111" stroke-width="0.2">15</text>
<text x="108.0" y="874.72" text-anchor="end" font-family="'Liberation Serif', serif" font-size="16" fill="#111" stroke="#111" stroke-width="0.2">30</text>
<text x="428.15" y="862.3" font-family="'Liberation Serif', serif" font-size="11.8" fill="#111" stroke="#111" stroke-width="0.3">N <tspan fill="#555" stroke="#555">=</tspan></text>
<text x="504" y="862.3" text-anchor="end" font-family="'Liberation Serif', serif" font-size="11.8" fill="#111" stroke="#111" stroke-width="0.3">105</text>
<text x="428.15" y="880.3" font-family="'Liberation Serif', serif" font-size="11.8" fill="#111" stroke="#111" stroke-width="0.3">Mean <tspan fill="#555" stroke="#555">=</tspan></text>
<text x="504" y="880.3" text-anchor="end" font-family="'Liberation Serif', serif" font-size="11.8" fill="#111" stroke="#111" stroke-width="0.3">28.9</text>
<text x="428.15" y="898.3" font-family="'Liberation Serif', serif" font-size="11.8" fill="#111" stroke="#111" stroke-width="0.3">SD <tspan fill="#555" stroke="#555">=</tspan></text>
<text x="504" y="898.3" text-anchor="end" font-family="'Liberation Serif', serif" font-size="11.8" fill="#111" stroke="#111" stroke-width="0.3">9.1</text>
<rect x="30.1" y="911.8" width="25.2" height="71" rx="1.0" fill="none" stroke="#1c1c1c" stroke-width="1.5"/>
<text transform="translate(48.9 947.3) rotate(-90)" text-anchor="middle" font-family="'Liberation Serif', serif" font-size="16" fill="#111" stroke="#111" stroke-width="0.2">3</text>
<text transform="translate(81.8 946.7) rotate(-90)" text-anchor="middle" font-family="'Liberation Serif', serif" font-size="16" fill="#111" stroke="#111" stroke-width="0.2">Percent</text>
<rect x="230.55" y="980.09" width="21.54" height="2.71" fill="#cdcdcd" stroke="#8c8c8c" stroke-width="0.8"/>
<rect x="252.09" y="958.56" width="21.54" height="24.24" fill="#cdcdcd" stroke="#8c8c8c" stroke-width="0.8"/>
<rect x="273.63" y="961.27" width="21.54" height="21.53" fill="#cdcdcd" stroke="#8c8c8c" stroke-width="0.8"/>
<rect x="295.17" y="958.56" width="21.54" height="24.24" fill="#cdcdcd" stroke="#8c8c8c" stroke-width="0.8"/>
<rect x="316.71" y="958.56" width="21.54" height="24.24" fill="#cdcdcd" stroke="#8c8c8c" stroke-width="0.8"/>
<rect x="338.25" y="953.14" width="21.54" height="29.66" fill="#cdcdcd" stroke="#8c8c8c" stroke-width="0.8"/>
<rect x="359.79" y="977.67" width="21.54" height="5.13" fill="#cdcdcd" stroke="#8c8c8c" stroke-width="0.8"/>
<rect x="381.33" y="974.96" width="21.54" height="7.84" fill="#cdcdcd" stroke="#8c8c8c" stroke-width="0.8"/>
<rect x="424.41" y="980.23" width="21.54" height="2.57" fill="#cdcdcd" stroke="#8c8c8c" stroke-width="0.8"/>
<polyline points="122.85,982.8 125,982.8 127.16,982.8 129.31,982.8 131.47,982.8 133.62,982.8 135.77,982.8 137.93,982.8 140.08,982.8 142.24,982.8 144.39,982.8 146.54,982.79 148.7,982.79 150.85,982.79 153.01,982.79 155.16,982.79 157.31,982.78 159.47,982.78 161.62,982.78 163.78,982.77 165.93,982.76 168.08,982.76 170.24,982.75 172.39,982.74 174.55,982.72 176.7,982.71 178.85,982.69 181.01,982.67 183.16,982.64 185.32,982.61 187.47,982.58 189.62,982.54 191.78,982.49 193.93,982.44 196.09,982.38 198.24,982.31 200.39,982.23 202.55,982.14 204.7,982.04 206.86,981.92 209.01,981.79 211.16,981.64 213.32,981.47 215.47,981.28 217.63,981.08 219.78,980.84 221.93,980.59 224.09,980.3 226.24,979.99 228.4,979.65 230.55,979.28 232.7,978.88 234.86,978.44 237.01,977.96 239.17,977.45 241.32,976.9 243.47,976.32 245.63,975.69 247.78,975.03 249.94,974.33 252.09,973.59 254.24,972.82 256.4,972.01 258.55,971.17 260.71,970.3 262.86,969.4 265.01,968.48 267.17,967.54 269.32,966.58 271.48,965.62 273.63,964.64 275.78,963.67 277.94,962.69 280.09,961.73 282.25,960.79 284.4,959.87 286.55,958.97 288.71,958.12 290.86,957.3 293.02,956.53 295.17,955.82 297.32,955.16 299.48,954.57 301.63,954.04 303.79,953.59 305.94,953.22 308.09,952.92 310.25,952.71 312.4,952.58 314.56,952.54 316.71,952.58 318.86,952.71 321.02,952.92 323.17,953.22 325.33,953.59 327.48,954.04 329.63,954.57 331.79,955.16 333.94,955.82 336.1,956.53 338.25,957.3 340.4,958.12 342.56,958.97 344.71,959.87 346.87,960.79 349.02,961.73 351.17,962.69 353.33,963.67 355.48,964.64 357.64,965.62 359.79,966.58 361.94,967.54 364.1,968.48 366.25,969.4 368.41,970.3 370.56,971.17 372.71,972.01 374.87,972.82 377.02,973.59 379.18,974.33 381.33,975.03 383.48,975.69 385.64,976.32 387.79,976.9 389.95,977.45 392.1,977.96 394.25,978.44 396.41,978.88 398.56,979.28 400.72,979.65 402.87,979.99 405.02,980.3 407.18,980.59 409.33,980.84 411.49,981.08 413.64,981.28 415.79,981.47 417.95,981.64 420.1,981.79 422.26,981.92 424.41,982.04 426.56,982.14 428.72,982.23 430.87,982.31 433.03,982.38 435.18,982.44 437.33,982.49 439.49,982.54 441.64,982.58 443.8,982.61 445.95,982.64 448.1,982.67 450.26,982.69 452.41,982.71 454.57,982.72 456.72,982.74 458.87,982.75 461.03,982.76 463.18,982.76 465.34,982.77 467.49,982.78 469.64,982.78 471.8,982.78 473.95,982.79 476.11,982.79 478.26,982.79 480.41,982.79 482.57,982.79 484.72,982.8 486.88,982.8 489.03,982.8 491.18,982.8 493.34,982.8 495.49,982.8 497.65,982.8 499.8,982.8 501.95,982.8 504.11,982.8 506.26,982.8 508.42,982.8 510.57,982.8 512.72,982.8 514.88,982.8" fill="none" stroke="#141414" stroke-width="1.3" stroke-linejoin="round" clip-path="url(#clC2)"/>
<clipPath id="clC2"><rect x="116.6" y="911.8" width="400.1" height="71"/></clipPath>
<rect x="116.6" y="911.8" width="400.1" height="71" rx="0.8" fill="none" stroke="#1c1c1c" stroke-width="1.5"/>
<line x1="112.1" y1="982.8" x2="116.6" y2="982.8" stroke="#000" stroke-width="1.25"/>
<line x1="112.1" y1="975.67" x2="116.6" y2="975.67" stroke="#000" stroke-width="1.25"/>
<line x1="112.1" y1="968.54" x2="116.6" y2="968.54" stroke="#000" stroke-width="1.25"/>
<line x1="112.1" y1="961.41" x2="116.6" y2="961.41" stroke="#000" stroke-width="1.25"/>
<line x1="112.1" y1="954.28" x2="116.6" y2="954.28" stroke="#000" stroke-width="1.25"/>
<line x1="112.1" y1="947.15" x2="116.6" y2="947.15" stroke="#000" stroke-width="1.25"/>
<line x1="112.1" y1="940.02" x2="116.6" y2="940.02" stroke="#000" stroke-width="1.25"/>
<line x1="112.1" y1="932.89" x2="116.6" y2="932.89" stroke="#000" stroke-width="1.25"/>
<text x="108.0" y="991.1" text-anchor="end" font-family="'Liberation Serif', serif" font-size="16" fill="#111" stroke="#111" stroke-width="0.2">0</text>
<text x="108.0" y="969.71" text-anchor="end" font-family="'Liberation Serif', serif" font-size="16" fill="#111" stroke="#111" stroke-width="0.2">15</text>
<text x="108.0" y="948.32" text-anchor="end" font-family="'Liberation Serif', serif" font-size="16" fill="#111" stroke="#111" stroke-width="0.2">30</text>
<text x="428.15" y="935.9" font-family="'Liberation Serif', serif" font-size="11.8" fill="#111" stroke="#111" stroke-width="0.3">N <tspan fill="#555" stroke="#555">=</tspan></text>
<text x="504" y="935.9" text-anchor="end" font-family="'Liberation Serif', serif" font-size="11.8" fill="#111" stroke="#111" stroke-width="0.3">53</text>
<text x="428.15" y="953.9" font-family="'Liberation Serif', serif" font-size="11.8" fill="#111" stroke="#111" stroke-width="0.3">Mean <tspan fill="#555" stroke="#555">=</tspan></text>
<text x="504" y="953.9" text-anchor="end" font-family="'Liberation Serif', serif" font-size="11.8" fill="#111" stroke="#111" stroke-width="0.3">44.5</text>
<text x="428.15" y="971.9" font-family="'Liberation Serif', serif" font-size="11.8" fill="#111" stroke="#111" stroke-width="0.3">SD <tspan fill="#555" stroke="#555">=</tspan></text>
<text x="504" y="971.9" text-anchor="end" font-family="'Liberation Serif', serif" font-size="11.8" fill="#111" stroke="#111" stroke-width="0.3">9.4</text>
<rect x="30.1" y="985.4" width="25.2" height="71" rx="1.0" fill="none" stroke="#1c1c1c" stroke-width="1.5"/>
<text transform="translate(48.9 1020.9) rotate(-90)" text-anchor="middle" font-family="'Liberation Serif', serif" font-size="16" fill="#111" stroke="#111" stroke-width="0.2">4</text>
<text transform="translate(81.8 1020.3) rotate(-90)" text-anchor="middle" font-family="'Liberation Serif', serif" font-size="16" fill="#111" stroke="#111" stroke-width="0.2">Percent</text>
<rect x="338.25" y="1049.84" width="21.54" height="6.56" fill="#cdcdcd" stroke="#8c8c8c" stroke-width="0.8"/>
<rect x="359.79" y="1043" width="21.54" height="13.4" fill="#cdcdcd" stroke="#8c8c8c" stroke-width="0.8"/>
<rect x="381.33" y="1015.76" width="21.54" height="40.64" fill="#cdcdcd" stroke="#8c8c8c" stroke-width="0.8"/>
<rect x="402.87" y="1009.2" width="21.54" height="47.2" fill="#cdcdcd" stroke="#8c8c8c" stroke-width="0.8"/>
<rect x="424.41" y="1036.01" width="21.54" height="20.39" fill="#cdcdcd" stroke="#8c8c8c" stroke-width="0.8"/>
<rect x="445.95" y="1049.98" width="21.54" height="6.42" fill="#cdcdcd" stroke="#8c8c8c" stroke-width="0.8"/>
<rect x="467.49" y="1049.98" width="21.54" height="6.42" fill="#cdcdcd" stroke="#8c8c8c" stroke-width="0.8"/>
<polyline points="122.85,1056.4 125,1056.4 127.16,1056.4 129.31,1056.4 131.47,1056.4 133.62,1056.4 135.77,1056.4 137.93,1056.4 140.08,1056.4 142.24,1056.4 144.39,1056.4 146.54,1056.4 148.7,1056.4 150.85,1056.4 153.01,1056.4 155.16,1056.4 157.31,1056.4 159.47,1056.4 161.62,1056.4 163.78,1056.4 165.93,1056.4 168.08,1056.4 170.24,1056.4 172.39,1056.4 174.55,1056.4 176.7,1056.4 178.85,1056.4 181.01,1056.4 183.16,1056.4 185.32,1056.4 187.47,1056.4 189.62,1056.4 191.78,1056.4 193.93,1056.4 196.09,1056.4 198.24,1056.4 200.39,1056.4 202.55,1056.4 204.7,1056.4 206.86,1056.4 209.01,1056.4 211.16,1056.4 213.32,1056.4 215.47,1056.4 217.63,1056.4 219.78,1056.4 221.93,1056.4 224.09,1056.4 226.24,1056.4 228.4,1056.4 230.55,1056.4 232.7,1056.4 234.86,1056.4 237.01,1056.4 239.17,1056.4 241.32,1056.4 243.47,1056.4 245.63,1056.4 247.78,1056.4 249.94,1056.4 252.09,1056.4 254.24,1056.4 256.4,1056.4 258.55,1056.4 260.71,1056.4 262.86,1056.4 265.01,1056.4 267.17,1056.4 269.32,1056.4 271.48,1056.4 273.63,1056.4 275.78,1056.4 277.94,1056.4 280.09,1056.4 282.25,1056.4 284.4,1056.4 286.55,1056.4 288.71,1056.39 290.86,1056.39 293.02,1056.39 295.17,1056.38 297.32,1056.38 299.48,1056.37 301.63,1056.36 303.79,1056.35 305.94,1056.33 308.09,1056.31 310.25,1056.28 312.4,1056.25 314.56,1056.21 316.71,1056.15 318.86,1056.08 321.02,1056 323.17,1055.89 325.33,1055.76 327.48,1055.6 329.63,1055.41 331.79,1055.18 333.94,1054.91 336.1,1054.59 338.25,1054.2 340.4,1053.76 342.56,1053.24 344.71,1052.64 346.87,1051.95 349.02,1051.17 351.17,1050.29 353.33,1049.31 355.48,1048.21 357.64,1047 359.79,1045.67 361.94,1044.23 364.1,1042.68 366.25,1041.02 368.41,1039.26 370.56,1037.41 372.71,1035.49 374.87,1033.51 377.02,1031.49 379.18,1029.45 381.33,1027.41 383.48,1025.41 385.64,1023.46 387.79,1021.6 389.95,1019.85 392.1,1018.23 394.25,1016.78 396.41,1015.52 398.56,1014.47 400.72,1013.64 402.87,1013.06 405.02,1012.72 407.18,1012.64 409.33,1012.83 411.49,1013.26 413.64,1013.94 415.79,1014.86 417.95,1016 420.1,1017.34 422.26,1018.86 424.41,1020.53 426.56,1022.33 428.72,1024.23 430.87,1026.21 433.03,1028.23 435.18,1030.27 437.33,1032.3 439.49,1034.31 441.64,1036.27 443.8,1038.16 445.95,1039.98 448.1,1041.7 450.26,1043.31 452.41,1044.82 454.57,1046.22 456.72,1047.5 458.87,1048.66 461.03,1049.71 463.18,1050.66 465.34,1051.5 467.49,1052.24 469.64,1052.89 471.8,1053.45 473.95,1053.94 476.11,1054.36 478.26,1054.72 480.41,1055.03 482.57,1055.28 484.72,1055.49 486.88,1055.67 489.03,1055.82 491.18,1055.94 493.34,1056.03 495.49,1056.11 497.65,1056.17 499.8,1056.22 501.95,1056.26 504.11,1056.3 506.26,1056.32 508.42,1056.34 510.57,1056.35 512.72,1056.37 514.88,1056.37" fill="none" stroke="#141414" stroke-width="1.3" stroke-linejoin="round" clip-path="url(#clC3)"/>
<clipPath id="clC3"><rect x="116.6" y="985.4" width="400.1" height="71"/></clipPath>
<rect x="116.6" y="985.4" width="400.1" height="71" rx="0.8" fill="none" stroke="#1c1c1c" stroke-width="1.5"/>
<line x1="112.1" y1="1056.4" x2="116.6" y2="1056.4" stroke="#000" stroke-width="1.25"/>
<line x1="112.1" y1="1049.27" x2="116.6" y2="1049.27" stroke="#000" stroke-width="1.25"/>
<line x1="112.1" y1="1042.14" x2="116.6" y2="1042.14" stroke="#000" stroke-width="1.25"/>
<line x1="112.1" y1="1035.01" x2="116.6" y2="1035.01" stroke="#000" stroke-width="1.25"/>
<line x1="112.1" y1="1027.88" x2="116.6" y2="1027.88" stroke="#000" stroke-width="1.25"/>
<line x1="112.1" y1="1020.75" x2="116.6" y2="1020.75" stroke="#000" stroke-width="1.25"/>
<line x1="112.1" y1="1013.62" x2="116.6" y2="1013.62" stroke="#000" stroke-width="1.25"/>
<line x1="112.1" y1="1006.49" x2="116.6" y2="1006.49" stroke="#000" stroke-width="1.25"/>
<text x="108.0" y="1064.7" text-anchor="end" font-family="'Liberation Serif', serif" font-size="16" fill="#111" stroke="#111" stroke-width="0.2">0</text>
<text x="108.0" y="1043.31" text-anchor="end" font-family="'Liberation Serif', serif" font-size="16" fill="#111" stroke="#111" stroke-width="0.2">15</text>
<text x="108.0" y="1021.92" text-anchor="end" font-family="'Liberation Serif', serif" font-size="16" fill="#111" stroke="#111" stroke-width="0.2">30</text>
<text x="428.15" y="1009.5" font-family="'Liberation Serif', serif" font-size="11.8" fill="#111" stroke="#111" stroke-width="0.3">N <tspan fill="#555" stroke="#555">=</tspan></text>
<text x="504" y="1009.5" text-anchor="end" font-family="'Liberation Serif', serif" font-size="11.8" fill="#111" stroke="#111" stroke-width="0.3">21</text>
<text x="428.15" y="1027.5" font-family="'Liberation Serif', serif" font-size="11.8" fill="#111" stroke="#111" stroke-width="0.3">Mean <tspan fill="#555" stroke="#555">=</tspan></text>
<text x="504" y="1027.5" text-anchor="end" font-family="'Liberation Serif', serif" font-size="11.8" fill="#111" stroke="#111" stroke-width="0.3">65.9</text>
<text x="428.15" y="1045.5" font-family="'Liberation Serif', serif" font-size="11.8" fill="#111" stroke="#111" stroke-width="0.3">SD <tspan fill="#555" stroke="#555">=</tspan></text>
<text x="504" y="1045.5" text-anchor="end" font-family="'Liberation Serif', serif" font-size="11.8" fill="#111" stroke="#111" stroke-width="0.3">6.5</text>
<line x1="122.85" y1="1056.4" x2="122.85" y2="1060.4" stroke="#1c1c1c" stroke-width="1.2"/>
<text x="122.85" y="1081.6" text-anchor="middle" font-family="'Liberation Serif', serif" font-size="16" fill="#111" stroke="#111" stroke-width="0.2">0</text>
<line x1="144.39" y1="1056.4" x2="144.39" y2="1060.4" stroke="#1c1c1c" stroke-width="1.2"/>
<text x="144.39" y="1081.6" text-anchor="middle" font-family="'Liberation Serif', serif" font-size="16" fill="#111" stroke="#111" stroke-width="0.2">5</text>
<line x1="165.93" y1="1056.4" x2="165.93" y2="1060.4" stroke="#1c1c1c" stroke-width="1.2"/>
<text x="165.93" y="1081.6" text-anchor="middle" font-family="'Liberation Serif', serif" font-size="16" fill="#111" stroke="#111" stroke-width="0.2">10</text>
<line x1="187.47" y1="1056.4" x2="187.47" y2="1060.4" stroke="#1c1c1c" stroke-width="1.2"/>
<text x="187.47" y="1081.6" text-anchor="middle" font-family="'Liberation Serif', serif" font-size="16" fill="#111" stroke="#111" stroke-width="0.2">15</text>
<line x1="209.01" y1="1056.4" x2="209.01" y2="1060.4" stroke="#1c1c1c" stroke-width="1.2"/>
<text x="209.01" y="1081.6" text-anchor="middle" font-family="'Liberation Serif', serif" font-size="16" fill="#111" stroke="#111" stroke-width="0.2">20</text>
<line x1="230.55" y1="1056.4" x2="230.55" y2="1060.4" stroke="#1c1c1c" stroke-width="1.2"/>
<text x="230.55" y="1081.6" text-anchor="middle" font-family="'Liberation Serif', serif" font-size="16" fill="#111" stroke="#111" stroke-width="0.2">25</text>
<line x1="252.09" y1="1056.4" x2="252.09" y2="1060.4" stroke="#1c1c1c" stroke-width="1.2"/>
<text x="252.09" y="1081.6" text-anchor="middle" font-family="'Liberation Serif', serif" font-size="16" fill="#111" stroke="#111" stroke-width="0.2">30</text>
<line x1="273.63" y1="1056.4" x2="273.63" y2="1060.4" stroke="#1c1c1c" stroke-width="1.2"/>
<text x="273.63" y="1081.6" text-anchor="middle" font-family="'Liberation Serif', serif" font-size="16" fill="#111" stroke="#111" stroke-width="0.2">35</text>
<line x1="295.17" y1="1056.4" x2="295.17" y2="1060.4" stroke="#1c1c1c" stroke-width="1.2"/>
<text x="295.17" y="1081.6" text-anchor="middle" font-family="'Liberation Serif', serif" font-size="16" fill="#111" stroke="#111" stroke-width="0.2">40</text>
<line x1="316.71" y1="1056.4" x2="316.71" y2="1060.4" stroke="#1c1c1c" stroke-width="1.2"/>
<text x="316.71" y="1081.6" text-anchor="middle" font-family="'Liberation Serif', serif" font-size="16" fill="#111" stroke="#111" stroke-width="0.2">45</text>
<line x1="338.25" y1="1056.4" x2="338.25" y2="1060.4" stroke="#1c1c1c" stroke-width="1.2"/>
<text x="338.25" y="1081.6" text-anchor="middle" font-family="'Liberation Serif', serif" font-size="16" fill="#111" stroke="#111" stroke-width="0.2">50</text>
<line x1="359.79" y1="1056.4" x2="359.79" y2="1060.4" stroke="#1c1c1c" stroke-width="1.2"/>
<text x="359.79" y="1081.6" text-anchor="middle" font-family="'Liberation Serif', serif" font-size="16" fill="#111" stroke="#111" stroke-width="0.2">55</text>
<line x1="381.33" y1="1056.4" x2="381.33" y2="1060.4" stroke="#1c1c1c" stroke-width="1.2"/>
<text x="381.33" y="1081.6" text-anchor="middle" font-family="'Liberation Serif', serif" font-size="16" fill="#111" stroke="#111" stroke-width="0.2">60</text>
<line x1="402.87" y1="1056.4" x2="402.87" y2="1060.4" stroke="#1c1c1c" stroke-width="1.2"/>
<text x="402.87" y="1081.6" text-anchor="middle" font-family="'Liberation Serif', serif" font-size="16" fill="#111" stroke="#111" stroke-width="0.2">65</text>
<line x1="424.41" y1="1056.4" x2="424.41" y2="1060.4" stroke="#1c1c1c" stroke-width="1.2"/>
<text x="424.41" y="1081.6" text-anchor="middle" font-family="'Liberation Serif', serif" font-size="16" fill="#111" stroke="#111" stroke-width="0.2">70</text>
<line x1="445.95" y1="1056.4" x2="445.95" y2="1060.4" stroke="#1c1c1c" stroke-width="1.2"/>
<text x="445.95" y="1081.6" text-anchor="middle" font-family="'Liberation Serif', serif" font-size="16" fill="#111" stroke="#111" stroke-width="0.2">75</text>
<line x1="467.49" y1="1056.4" x2="467.49" y2="1060.4" stroke="#1c1c1c" stroke-width="1.2"/>
<text x="467.49" y="1081.6" text-anchor="middle" font-family="'Liberation Serif', serif" font-size="16" fill="#111" stroke="#111" stroke-width="0.2">80</text>
<line x1="489.03" y1="1056.4" x2="489.03" y2="1060.4" stroke="#1c1c1c" stroke-width="1.2"/>
<text x="489.03" y="1081.6" text-anchor="middle" font-family="'Liberation Serif', serif" font-size="16" fill="#111" stroke="#111" stroke-width="0.2">85</text>
<line x1="510.57" y1="1056.4" x2="510.57" y2="1060.4" stroke="#1c1c1c" stroke-width="1.2"/>
<text x="510.57" y="1081.6" text-anchor="middle" font-family="'Liberation Serif', serif" font-size="16" fill="#111" stroke="#111" stroke-width="0.2">90</text>
<text x="316.5" y="1106.8" text-anchor="middle" font-family="'Liberation Serif', serif" font-size="16" fill="#111" stroke="#111" stroke-width="0.2">MPN-SAF TSS</text>
</svg>
</body></html>
